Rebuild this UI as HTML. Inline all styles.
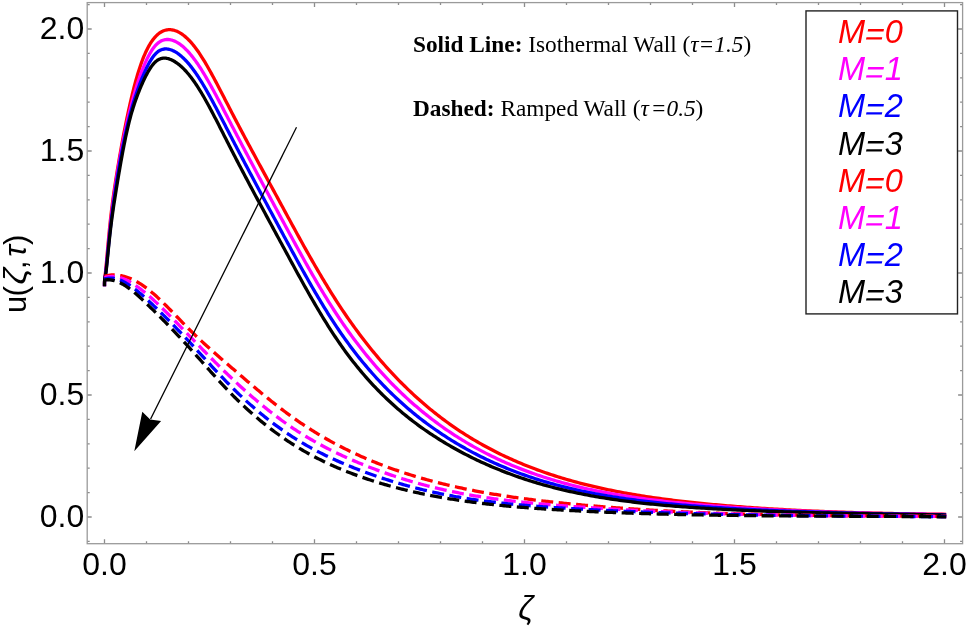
<!DOCTYPE html>
<html><head><meta charset="utf-8"><style>
html,body{margin:0;padding:0;background:#fff;width:967px;height:626px;overflow:hidden}
svg{display:block;will-change:transform}
</style></head><body>
<svg width="967" height="626" viewBox="0 0 967 626">
<rect width="967" height="626" fill="#fff"/>
<path d="M104.50 543.70v-4.50M104.50 2.60v4.50M146.50 543.70v-2.50M146.50 2.60v2.50M188.50 543.70v-2.50M188.50 2.60v2.50M230.50 543.70v-2.50M230.50 2.60v2.50M272.50 543.70v-2.50M272.50 2.60v2.50M314.50 543.70v-4.50M314.50 2.60v4.50M356.50 543.70v-2.50M356.50 2.60v2.50M398.50 543.70v-2.50M398.50 2.60v2.50M440.50 543.70v-2.50M440.50 2.60v2.50M482.50 543.70v-2.50M482.50 2.60v2.50M524.50 543.70v-4.50M524.50 2.60v4.50M566.50 543.70v-2.50M566.50 2.60v2.50M608.50 543.70v-2.50M608.50 2.60v2.50M650.50 543.70v-2.50M650.50 2.60v2.50M692.50 543.70v-2.50M692.50 2.60v2.50M734.50 543.70v-4.50M734.50 2.60v4.50M776.50 543.70v-2.50M776.50 2.60v2.50M818.50 543.70v-2.50M818.50 2.60v2.50M860.50 543.70v-2.50M860.50 2.60v2.50M902.50 543.70v-2.50M902.50 2.60v2.50M944.50 543.70v-4.50M944.50 2.60v4.50M87.20 541.40h2.50M962.60 541.40h-2.50M87.20 517.00h4.50M962.60 517.00h-4.50M87.20 492.60h2.50M962.60 492.60h-2.50M87.20 468.20h2.50M962.60 468.20h-2.50M87.20 443.80h2.50M962.60 443.80h-2.50M87.20 419.40h2.50M962.60 419.40h-2.50M87.20 395.00h4.50M962.60 395.00h-4.50M87.20 370.60h2.50M962.60 370.60h-2.50M87.20 346.20h2.50M962.60 346.20h-2.50M87.20 321.80h2.50M962.60 321.80h-2.50M87.20 297.40h2.50M962.60 297.40h-2.50M87.20 273.00h4.50M962.60 273.00h-4.50M87.20 248.60h2.50M962.60 248.60h-2.50M87.20 224.20h2.50M962.60 224.20h-2.50M87.20 199.80h2.50M962.60 199.80h-2.50M87.20 175.40h2.50M962.60 175.40h-2.50M87.20 151.00h4.50M962.60 151.00h-4.50M87.20 126.60h2.50M962.60 126.60h-2.50M87.20 102.20h2.50M962.60 102.20h-2.50M87.20 77.80h2.50M962.60 77.80h-2.50M87.20 53.40h2.50M962.60 53.40h-2.50M87.20 29.00h4.50M962.60 29.00h-4.50M87.20 4.60h2.50M962.60 4.60h-2.50" stroke="#8c8c8c" stroke-width="1.3" fill="none"/>
<rect x="87.2" y="2.6" width="875.4" height="541.1" fill="none" stroke="#9a9a9a" stroke-width="1.3"/>
<path d="M104.50 284.60L104.50 284.00L104.51 283.42L104.52 282.87L104.54 282.34L104.56 281.82L104.58 281.32L104.61 280.82L104.65 280.32L104.69 279.82L104.73 279.31L104.78 278.79L104.84 278.25L104.90 277.69L104.96 277.10L105.03 276.49L105.10 275.84L105.18 275.15L105.26 274.41L105.35 273.63L105.44 272.79L105.53 271.89L105.63 270.94L105.74 269.91L105.85 268.82L105.96 267.64L106.08 266.39L106.21 265.06L106.34 263.65L106.47 262.17L106.61 260.62L106.75 259.00L106.90 257.32L107.05 255.58L107.21 253.79L107.37 251.95L107.53 250.06L107.71 248.13L107.88 246.16L108.06 244.15L108.25 242.10L108.44 240.03L108.63 237.94L108.83 235.82L109.03 233.69L109.24 231.54L109.45 229.38L109.67 227.22L109.89 225.05L110.12 222.88L110.35 220.72L110.59 218.57L110.83 216.42L111.08 214.29L111.33 212.16L111.58 210.05L111.84 207.94L112.11 205.84L112.38 203.74L112.65 201.65L112.93 199.57L113.21 197.49L113.50 195.41L113.79 193.33L114.09 191.25L114.39 189.18L114.70 187.10L115.01 185.02L115.33 182.94L115.65 180.86L115.97 178.77L116.30 176.68L116.64 174.58L116.98 172.48L117.32 170.37L117.67 168.25L118.02 166.12L118.38 163.99L118.74 161.84L119.11 159.68L119.48 157.52L119.86 155.35L120.24 153.17L120.63 150.99L121.02 148.80L121.41 146.60L121.82 144.40L122.22 142.20L122.63 140.00L123.04 137.79L123.46 135.58L123.89 133.37L124.32 131.16L124.75 128.95L125.19 126.74L125.63 124.53L126.08 122.33L126.53 120.12L126.98 117.93L127.45 115.73L127.91 113.54L128.38 111.36L128.86 109.18L129.34 107.01L129.82 104.85L130.31 102.69L130.80 100.55L131.30 98.42L131.81 96.31L132.31 94.21L132.83 92.12L133.35 90.05L133.87 88.01L134.39 85.98L134.93 83.98L135.46 81.99L136.00 80.04L136.55 78.11L137.10 76.20L137.65 74.33L138.21 72.48L138.78 70.67L139.35 68.89L139.92 67.14L140.50 65.43L141.08 63.75L141.67 62.11L142.26 60.51L142.86 58.96L143.46 57.44L144.07 55.96L144.68 54.53L145.29 53.13L145.91 51.78L146.54 50.46L147.17 49.19L147.80 47.96L148.44 46.76L149.08 45.61L149.73 44.50L150.39 43.43L151.04 42.40L151.71 41.41L152.37 40.47L153.05 39.56L153.72 38.69L154.40 37.86L155.09 37.08L155.78 36.33L156.48 35.63L157.18 34.96L157.88 34.34L158.59 33.75L159.30 33.21L160.02 32.70L160.75 32.24L161.47 31.81L162.21 31.42L162.94 31.07L163.69 30.76L164.43 30.49L165.18 30.26L165.94 30.07L166.70 29.92L167.47 29.80L168.24 29.72L169.01 29.68L169.79 29.68L170.58 29.71L171.37 29.78L172.16 29.89L172.96 30.04L173.76 30.23L174.57 30.45L175.38 30.71L176.20 31.01L177.02 31.34L177.85 31.72L178.68 32.13L179.51 32.59L180.35 33.08L181.20 33.61L182.05 34.19L182.90 34.80L183.76 35.45L184.63 36.15L185.49 36.88L186.37 37.66L187.24 38.47L188.13 39.33L189.01 40.23L189.91 41.17L190.80 42.15L191.70 43.18L192.61 44.25L193.52 45.36L194.44 46.51L195.36 47.71L196.28 48.95L197.21 50.23L198.15 51.56L199.08 52.93L200.03 54.34L200.98 55.80L201.93 57.29L202.89 58.82L203.85 60.38L204.82 61.98L205.79 63.62L206.76 65.29L207.74 66.99L208.73 68.72L209.72 70.48L210.71 72.27L211.71 74.09L212.72 75.93L213.73 77.80L214.74 79.69L215.76 81.60L216.78 83.54L217.81 85.49L218.84 87.46L219.88 89.45L220.92 91.46L221.97 93.48L223.02 95.52L224.08 97.57L225.14 99.63L226.20 101.70L227.27 103.78L228.35 105.86L229.43 107.96L230.51 110.06L231.60 112.16L232.69 114.27L233.79 116.38L234.89 118.49L236.00 120.61L237.11 122.73L238.23 124.85L239.35 126.98L240.48 129.11L241.61 131.25L242.74 133.39L243.88 135.54L245.03 137.69L246.18 139.85L247.33 142.01L248.49 144.17L249.65 146.34L250.82 148.52L251.99 150.71L253.17 152.89L254.35 155.09L255.54 157.29L256.73 159.50L257.93 161.71L259.13 163.93L260.34 166.16L261.55 168.39L262.76 170.64L263.98 172.88L265.20 175.14L266.43 177.40L267.67 179.67L268.91 181.95L270.15 184.24L271.40 186.54L272.65 188.84L273.91 191.15L275.17 193.47L276.43 195.80L277.71 198.14L278.98 200.49L280.26 202.84L281.55 205.21L282.84 207.58L284.13 209.97L285.43 212.36L286.74 214.76L288.04 217.17L289.36 219.58L290.68 222.01L292.00 224.43L293.33 226.86L294.66 229.30L296.00 231.74L297.34 234.18L298.68 236.63L300.03 239.08L301.39 241.53L302.75 243.98L304.11 246.43L305.48 248.88L306.86 251.33L308.24 253.78L309.62 256.23L311.01 258.67L312.40 261.11L313.80 263.55L315.20 265.98L316.61 268.41L318.02 270.83L319.44 273.24L320.86 275.65L322.28 278.05L323.71 280.45L325.15 282.83L326.59 285.21L328.03 287.57L329.48 289.93L330.94 292.27L332.40 294.61L333.86 296.93L335.33 299.24L336.80 301.53L338.28 303.81L339.76 306.08L341.24 308.33L342.74 310.57L344.23 312.79L345.73 315.00L347.24 317.19L348.75 319.36L350.26 321.52L351.78 323.67L353.31 325.80L354.83 327.91L356.37 330.01L357.91 332.10L359.45 334.17L361.00 336.22L362.55 338.26L364.11 340.28L365.67 342.29L367.23 344.29L368.80 346.26L370.38 348.23L371.96 350.18L373.55 352.11L375.13 354.03L376.73 355.93L378.33 357.82L379.93 359.70L381.54 361.56L383.15 363.40L384.77 365.23L386.39 367.05L388.02 368.85L389.65 370.63L391.29 372.41L392.93 374.16L394.58 375.90L396.23 377.63L397.88 379.34L399.54 381.04L401.21 382.73L402.87 384.40L404.55 386.05L406.23 387.69L407.91 389.32L409.60 390.93L411.29 392.53L412.99 394.11L414.69 395.68L416.40 397.23L418.11 398.77L419.82 400.30L421.55 401.81L423.27 403.30L425.00 404.79L426.74 406.26L428.48 407.71L430.22 409.15L431.97 410.58L433.72 411.99L435.48 413.39L437.24 414.77L439.01 416.14L440.78 417.50L442.56 418.84L444.34 420.17L446.13 421.48L447.92 422.79L449.71 424.07L451.51 425.35L453.32 426.61L455.13 427.85L456.94 429.08L458.76 430.30L460.59 431.51L462.41 432.70L464.25 433.88L466.09 435.05L467.93 436.20L469.77 437.34L471.63 438.47L473.48 439.59L475.34 440.69L477.21 441.78L479.08 442.86L480.96 443.92L482.84 444.98L484.72 446.02L486.61 447.05L488.50 448.07L490.40 449.07L492.31 450.06L494.21 451.05L496.13 452.02L498.04 452.97L499.97 453.92L501.89 454.86L503.82 455.78L505.76 456.69L507.70 457.59L509.65 458.48L511.60 459.36L513.55 460.23L515.51 461.09L517.48 461.94L519.44 462.77L521.42 463.60L523.40 464.41L525.38 465.22L527.37 466.01L529.36 466.79L531.36 467.57L533.36 468.33L535.36 469.08L537.38 469.83L539.39 470.56L541.41 471.29L543.44 472.00L545.47 472.70L547.50 473.40L549.54 474.08L551.58 474.76L553.63 475.43L555.69 476.09L557.74 476.73L559.81 477.37L561.87 478.00L563.94 478.63L566.02 479.24L568.10 479.84L570.19 480.44L572.28 481.03L574.37 481.60L576.47 482.17L578.58 482.74L580.69 483.29L582.80 483.83L584.92 484.37L587.04 484.90L589.17 485.42L591.31 485.94L593.44 486.44L595.58 486.94L597.73 487.43L599.88 487.92L602.04 488.39L604.20 488.86L606.37 489.32L608.54 489.78L610.71 490.23L612.89 490.67L615.07 491.10L617.26 491.53L619.46 491.95L621.66 492.37L623.86 492.77L626.07 493.17L628.28 493.57L630.50 493.96L632.72 494.34L634.94 494.72L637.18 495.09L639.41 495.45L641.65 495.81L643.90 496.16L646.15 496.51L648.40 496.85L650.66 497.19L652.92 497.52L655.19 497.85L657.47 498.17L659.74 498.48L662.03 498.79L664.31 499.10L666.61 499.40L668.90 499.70L671.20 499.99L673.51 500.27L675.82 500.56L678.14 500.83L680.46 501.11L682.78 501.38L685.11 501.64L687.44 501.90L689.78 502.16L692.13 502.41L694.47 502.66L696.83 502.91L699.18 503.15L701.55 503.38L703.91 503.62L706.29 503.85L708.66 504.08L711.04 504.30L713.43 504.52L715.82 504.74L718.21 504.96L720.61 505.17L723.02 505.38L725.43 505.58L727.84 505.79L730.26 505.99L732.68 506.18L735.11 506.38L737.54 506.57L739.98 506.76L742.42 506.94L744.87 507.12L747.32 507.30L749.77 507.48L752.23 507.65L754.70 507.82L757.17 507.99L759.64 508.15L762.12 508.32L764.61 508.48L767.10 508.63L769.59 508.79L772.09 508.94L774.59 509.09L777.10 509.24L779.61 509.38L782.13 509.52L784.65 509.66L787.17 509.80L789.70 509.93L792.24 510.06L794.78 510.19L797.32 510.32L799.87 510.44L802.43 510.56L804.99 510.68L807.55 510.80L810.12 510.92L812.69 511.03L815.27 511.14L817.85 511.25L820.44 511.35L823.03 511.46L825.63 511.56L828.23 511.66L830.83 511.76L833.44 511.85L836.06 511.95L838.68 512.04L841.30 512.13L843.93 512.21L846.57 512.30L849.20 512.38L851.85 512.46L854.50 512.54L857.15 512.62L859.80 512.70L862.47 512.77L865.13 512.84L867.80 512.92L870.48 512.98L873.16 513.05L875.85 513.12L878.54 513.18L881.23 513.24L883.93 513.30L886.63 513.36L889.34 513.42L892.06 513.48L894.77 513.53L897.50 513.58L900.22 513.63L902.96 513.68L905.69 513.73L908.43 513.78L911.18 513.82L913.93 513.87L916.69 513.91L919.45 513.95L922.21 513.99L924.98 514.03L927.76 514.07L930.54 514.11L933.32 514.14L936.11 514.17L938.90 514.21L941.70 514.24L944.50 514.27" stroke="#ff0000" stroke-width="3.3" fill="none" stroke-linejoin="round" stroke-linecap="square"/>
<path d="M104.50 284.60L104.50 284.10L104.51 283.62L104.52 283.16L104.54 282.72L104.56 282.30L104.58 281.88L104.61 281.46L104.65 281.04L104.69 280.62L104.73 280.19L104.78 279.74L104.84 279.28L104.90 278.80L104.96 278.29L105.03 277.75L105.10 277.17L105.18 276.56L105.26 275.91L105.35 275.20L105.44 274.45L105.53 273.64L105.63 272.77L105.74 271.84L105.85 270.83L105.96 269.76L106.08 268.61L106.21 267.38L106.34 266.08L106.47 264.71L106.61 263.27L106.75 261.77L106.90 260.20L107.05 258.58L107.21 256.90L107.37 255.17L107.53 253.39L107.71 251.57L107.88 249.70L108.06 247.79L108.25 245.85L108.44 243.87L108.63 241.86L108.83 239.82L109.03 237.76L109.24 235.68L109.45 233.58L109.67 231.46L109.89 229.33L110.12 227.20L110.35 225.05L110.59 222.91L110.83 220.76L111.08 218.61L111.33 216.46L111.58 214.32L111.84 212.17L112.11 210.02L112.38 207.87L112.65 205.72L112.93 203.57L113.21 201.42L113.50 199.27L113.79 197.12L114.09 194.97L114.39 192.82L114.70 190.67L115.01 188.52L115.33 186.37L115.65 184.22L115.97 182.07L116.30 179.92L116.64 177.77L116.98 175.62L117.32 173.47L117.67 171.32L118.02 169.17L118.38 167.02L118.74 164.87L119.11 162.73L119.48 160.58L119.86 158.44L120.24 156.30L120.63 154.16L121.02 152.03L121.41 149.90L121.82 147.77L122.22 145.65L122.63 143.53L123.04 141.42L123.46 139.32L123.89 137.22L124.32 135.13L124.75 133.05L125.19 130.97L125.63 128.91L126.08 126.85L126.53 124.80L126.98 122.76L127.45 120.73L127.91 118.72L128.38 116.71L128.86 114.72L129.34 112.73L129.82 110.76L130.31 108.81L130.80 106.86L131.30 104.94L131.81 103.02L132.31 101.12L132.83 99.24L133.35 97.37L133.87 95.52L134.39 93.68L134.93 91.87L135.46 90.07L136.00 88.29L136.55 86.52L137.10 84.78L137.65 83.06L138.21 81.36L138.78 79.68L139.35 78.02L139.92 76.38L140.50 74.76L141.08 73.17L141.67 71.60L142.26 70.05L142.86 68.53L143.46 67.03L144.07 65.56L144.68 64.12L145.29 62.71L145.91 61.33L146.54 59.98L147.17 58.66L147.80 57.38L148.44 56.13L149.08 54.92L149.73 53.75L150.39 52.62L151.04 51.53L151.71 50.48L152.37 49.48L153.05 48.52L153.72 47.61L154.40 46.74L155.09 45.92L155.78 45.15L156.48 44.44L157.18 43.77L157.88 43.16L158.59 42.59L159.30 42.08L160.02 41.61L160.75 41.19L161.47 40.82L162.21 40.49L162.94 40.21L163.69 39.98L164.43 39.79L165.18 39.64L165.94 39.54L166.70 39.48L167.47 39.47L168.24 39.49L169.01 39.55L169.79 39.66L170.58 39.80L171.37 39.99L172.16 40.21L172.96 40.47L173.76 40.77L174.57 41.11L175.38 41.48L176.20 41.89L177.02 42.34L177.85 42.83L178.68 43.36L179.51 43.92L180.35 44.53L181.20 45.17L182.05 45.85L182.90 46.57L183.76 47.32L184.63 48.12L185.49 48.95L186.37 49.82L187.24 50.73L188.13 51.68L189.01 52.67L189.91 53.69L190.80 54.75L191.70 55.86L192.61 57.00L193.52 58.17L194.44 59.39L195.36 60.65L196.28 61.94L197.21 63.28L198.15 64.65L199.08 66.06L200.03 67.50L200.98 68.98L201.93 70.50L202.89 72.05L203.85 73.63L204.82 75.25L205.79 76.89L206.76 78.57L207.74 80.27L208.73 82.01L209.72 83.76L210.71 85.55L211.71 87.36L212.72 89.19L213.73 91.05L214.74 92.93L215.76 94.83L216.78 96.74L217.81 98.68L218.84 100.64L219.88 102.61L220.92 104.60L221.97 106.60L223.02 108.62L224.08 110.65L225.14 112.70L226.20 114.75L227.27 116.81L228.35 118.89L229.43 120.97L230.51 123.06L231.60 125.15L232.69 127.25L233.79 129.36L234.89 131.47L236.00 133.58L237.11 135.71L238.23 137.83L239.35 139.97L240.48 142.10L241.61 144.25L242.74 146.40L243.88 148.55L245.03 150.72L246.18 152.88L247.33 155.06L248.49 157.24L249.65 159.43L250.82 161.62L251.99 163.82L253.17 166.02L254.35 168.24L255.54 170.46L256.73 172.68L257.93 174.92L259.13 177.16L260.34 179.40L261.55 181.66L262.76 183.92L263.98 186.19L265.20 188.46L266.43 190.75L267.67 193.04L268.91 195.34L270.15 197.64L271.40 199.96L272.65 202.28L273.91 204.61L275.17 206.95L276.43 209.29L277.71 211.64L278.98 214.01L280.26 216.38L281.55 218.75L282.84 221.14L284.13 223.54L285.43 225.94L286.74 228.35L288.04 230.76L289.36 233.18L290.68 235.61L292.00 238.04L293.33 240.47L294.66 242.91L296.00 245.35L297.34 247.79L298.68 250.23L300.03 252.67L301.39 255.12L302.75 257.56L304.11 260.00L305.48 262.45L306.86 264.88L308.24 267.32L309.62 269.75L311.01 272.18L312.40 274.60L313.80 277.02L315.20 279.43L316.61 281.84L318.02 284.24L319.44 286.63L320.86 289.01L322.28 291.39L323.71 293.75L325.15 296.11L326.59 298.45L328.03 300.78L329.48 303.11L330.94 305.41L332.40 307.71L333.86 309.99L335.33 312.26L336.80 314.51L338.28 316.75L339.76 318.97L341.24 321.17L342.74 323.36L344.23 325.53L345.73 327.68L347.24 329.82L348.75 331.94L350.26 334.04L351.78 336.13L353.31 338.20L354.83 340.25L356.37 342.29L357.91 344.31L359.45 346.31L361.00 348.30L362.55 350.27L364.11 352.23L365.67 354.17L367.23 356.09L368.80 358.00L370.38 359.89L371.96 361.76L373.55 363.62L375.13 365.47L376.73 367.29L378.33 369.11L379.93 370.90L381.54 372.68L383.15 374.45L384.77 376.20L386.39 377.94L388.02 379.66L389.65 381.36L391.29 383.05L392.93 384.73L394.58 386.38L396.23 388.03L397.88 389.66L399.54 391.27L401.21 392.87L402.87 394.46L404.55 396.03L406.23 397.59L407.91 399.13L409.60 400.66L411.29 402.17L412.99 403.67L414.69 405.15L416.40 406.62L418.11 408.08L419.82 409.52L421.55 410.95L423.27 412.37L425.00 413.77L426.74 415.15L428.48 416.53L430.22 417.89L431.97 419.23L433.72 420.56L435.48 421.88L437.24 423.19L439.01 424.48L440.78 425.76L442.56 427.02L444.34 428.28L446.13 429.52L447.92 430.74L449.71 431.96L451.51 433.16L453.32 434.34L455.13 435.52L456.94 436.68L458.76 437.83L460.59 438.97L462.41 440.09L464.25 441.20L466.09 442.30L467.93 443.39L469.77 444.46L471.63 445.53L473.48 446.58L475.34 447.62L477.21 448.64L479.08 449.66L480.96 450.66L482.84 451.65L484.72 452.63L486.61 453.60L488.50 454.56L490.40 455.50L492.31 456.44L494.21 457.36L496.13 458.27L498.04 459.17L499.97 460.06L501.89 460.94L503.82 461.81L505.76 462.66L507.70 463.51L509.65 464.34L511.60 465.17L513.55 465.98L515.51 466.78L517.48 467.58L519.44 468.36L521.42 469.13L523.40 469.89L525.38 470.64L527.37 471.38L529.36 472.11L531.36 472.84L533.36 473.55L535.36 474.25L537.38 474.94L539.39 475.62L541.41 476.29L543.44 476.95L545.47 477.61L547.50 478.25L549.54 478.89L551.58 479.51L553.63 480.13L555.69 480.73L557.74 481.33L559.81 481.92L561.87 482.50L563.94 483.07L566.02 483.63L568.10 484.18L570.19 484.73L572.28 485.26L574.37 485.79L576.47 486.31L578.58 486.82L580.69 487.32L582.80 487.81L584.92 488.30L587.04 488.78L589.17 489.25L591.31 489.71L593.44 490.17L595.58 490.61L597.73 491.05L599.88 491.49L602.04 491.91L604.20 492.33L606.37 492.74L608.54 493.15L610.71 493.54L612.89 493.93L615.07 494.32L617.26 494.70L619.46 495.07L621.66 495.43L623.86 495.79L626.07 496.14L628.28 496.49L630.50 496.83L632.72 497.16L634.94 497.49L637.18 497.81L639.41 498.13L641.65 498.44L643.90 498.75L646.15 499.05L648.40 499.34L650.66 499.63L652.92 499.92L655.19 500.20L657.47 500.48L659.74 500.75L662.03 501.01L664.31 501.27L666.61 501.53L668.90 501.78L671.20 502.03L673.51 502.28L675.82 502.52L678.14 502.75L680.46 502.99L682.78 503.21L685.11 503.44L687.44 503.66L689.78 503.88L692.13 504.09L694.47 504.30L696.83 504.51L699.18 504.72L701.55 504.92L703.91 505.12L706.29 505.31L708.66 505.51L711.04 505.70L713.43 505.89L715.82 506.07L718.21 506.25L720.61 506.43L723.02 506.61L725.43 506.79L727.84 506.96L730.26 507.13L732.68 507.30L735.11 507.46L737.54 507.63L739.98 507.79L742.42 507.95L744.87 508.10L747.32 508.25L749.77 508.41L752.23 508.55L754.70 508.70L757.17 508.85L759.64 508.99L762.12 509.13L764.61 509.27L767.10 509.40L769.59 509.53L772.09 509.67L774.59 509.80L777.10 509.92L779.61 510.05L782.13 510.17L784.65 510.29L787.17 510.41L789.70 510.53L792.24 510.64L794.78 510.75L797.32 510.86L799.87 510.97L802.43 511.08L804.99 511.19L807.55 511.29L810.12 511.39L812.69 511.49L815.27 511.59L817.85 511.68L820.44 511.78L823.03 511.87L825.63 511.96L828.23 512.05L830.83 512.14L833.44 512.22L836.06 512.31L838.68 512.39L841.30 512.47L843.93 512.55L846.57 512.63L849.20 512.70L851.85 512.78L854.50 512.85L857.15 512.92L859.80 512.99L862.47 513.06L865.13 513.13L867.80 513.19L870.48 513.26L873.16 513.32L875.85 513.38L878.54 513.44L881.23 513.50L883.93 513.56L886.63 513.61L889.34 513.67L892.06 513.72L894.77 513.77L897.50 513.82L900.22 513.87L902.96 513.92L905.69 513.97L908.43 514.02L911.18 514.06L913.93 514.11L916.69 514.15L919.45 514.19L922.21 514.23L924.98 514.27L927.76 514.31L930.54 514.35L933.32 514.39L936.11 514.42L938.90 514.46L941.70 514.49L944.50 514.53" stroke="#ff00ff" stroke-width="3.3" fill="none" stroke-linejoin="round" stroke-linecap="square"/>
<path d="M104.50 284.60L104.50 284.01L104.51 283.46L104.52 282.95L104.54 282.48L104.56 282.04L104.58 281.62L104.61 281.22L104.65 280.83L104.69 280.46L104.73 280.09L104.78 279.71L104.84 279.33L104.90 278.93L104.96 278.52L105.03 278.09L105.10 277.62L105.18 277.12L105.26 276.59L105.35 276.01L105.44 275.38L105.53 274.69L105.63 273.95L105.74 273.14L105.85 272.26L105.96 271.30L106.08 270.26L106.21 269.14L106.34 267.95L106.47 266.67L106.61 265.33L106.75 263.92L106.90 262.44L107.05 260.90L107.21 259.30L107.37 257.65L107.53 255.94L107.71 254.19L107.88 252.39L108.06 250.55L108.25 248.67L108.44 246.75L108.63 244.80L108.83 242.82L109.03 240.81L109.24 238.78L109.45 236.73L109.67 234.67L109.89 232.59L110.12 230.50L110.35 228.41L110.59 226.31L110.83 224.21L111.08 222.11L111.33 220.01L111.58 217.90L111.84 215.80L112.11 213.69L112.38 211.59L112.65 209.48L112.93 207.37L113.21 205.26L113.50 203.15L113.79 201.03L114.09 198.92L114.39 196.80L114.70 194.68L115.01 192.56L115.33 190.44L115.65 188.31L115.97 186.18L116.30 184.05L116.64 181.92L116.98 179.79L117.32 177.65L117.67 175.51L118.02 173.37L118.38 171.22L118.74 169.07L119.11 166.93L119.48 164.78L119.86 162.63L120.24 160.48L120.63 158.34L121.02 156.20L121.41 154.06L121.82 151.93L122.22 149.81L122.63 147.69L123.04 145.58L123.46 143.48L123.89 141.39L124.32 139.32L124.75 137.25L125.19 135.20L125.63 133.16L126.08 131.14L126.53 129.13L126.98 127.14L127.45 125.16L127.91 123.21L128.38 121.27L128.86 119.36L129.34 117.47L129.82 115.59L130.31 113.74L130.80 111.91L131.30 110.10L131.81 108.31L132.31 106.54L132.83 104.78L133.35 103.05L133.87 101.34L134.39 99.64L134.93 97.96L135.46 96.30L136.00 94.66L136.55 93.04L137.10 91.43L137.65 89.84L138.21 88.27L138.78 86.72L139.35 85.18L139.92 83.65L140.50 82.15L141.08 80.66L141.67 79.18L142.26 77.72L142.86 76.27L143.46 74.85L144.07 73.44L144.68 72.05L145.29 70.68L145.91 69.34L146.54 68.03L147.17 66.74L147.80 65.49L148.44 64.26L149.08 63.08L149.73 61.93L150.39 60.81L151.04 59.74L151.71 58.72L152.37 57.73L153.05 56.80L153.72 55.91L154.40 55.07L155.09 54.29L155.78 53.56L156.48 52.89L157.18 52.27L157.88 51.71L158.59 51.20L159.30 50.75L160.02 50.35L160.75 50.00L161.47 49.71L162.21 49.46L162.94 49.26L163.69 49.11L164.43 49.00L165.18 48.94L165.94 48.93L166.70 48.96L167.47 49.03L168.24 49.15L169.01 49.30L169.79 49.50L170.58 49.73L171.37 50.00L172.16 50.31L172.96 50.66L173.76 51.04L174.57 51.46L175.38 51.92L176.20 52.41L177.02 52.94L177.85 53.50L178.68 54.10L179.51 54.74L180.35 55.42L181.20 56.13L182.05 56.88L182.90 57.66L183.76 58.49L184.63 59.35L185.49 60.24L186.37 61.17L187.24 62.14L188.13 63.15L189.01 64.19L189.91 65.27L190.80 66.39L191.70 67.54L192.61 68.73L193.52 69.96L194.44 71.23L195.36 72.53L196.28 73.87L197.21 75.24L198.15 76.65L199.08 78.10L200.03 79.58L200.98 81.10L201.93 82.65L202.89 84.24L203.85 85.85L204.82 87.50L205.79 89.17L206.76 90.87L207.74 92.60L208.73 94.36L209.72 96.14L210.71 97.95L211.71 99.78L212.72 101.64L213.73 103.51L214.74 105.41L215.76 107.33L216.78 109.26L217.81 111.22L218.84 113.19L219.88 115.17L220.92 117.18L221.97 119.19L223.02 121.22L224.08 123.27L225.14 125.32L226.20 127.38L227.27 129.46L228.35 131.54L229.43 133.63L230.51 135.73L231.60 137.83L232.69 139.94L233.79 142.05L234.89 144.17L236.00 146.29L237.11 148.42L238.23 150.55L239.35 152.69L240.48 154.84L241.61 156.99L242.74 159.14L243.88 161.30L245.03 163.47L246.18 165.64L247.33 167.82L248.49 170.01L249.65 172.20L250.82 174.39L251.99 176.60L253.17 178.81L254.35 181.02L255.54 183.25L256.73 185.48L257.93 187.71L259.13 189.96L260.34 192.21L261.55 194.47L262.76 196.73L263.98 199.00L265.20 201.28L266.43 203.57L267.67 205.86L268.91 208.17L270.15 210.47L271.40 212.79L272.65 215.12L273.91 217.45L275.17 219.79L276.43 222.14L277.71 224.50L278.98 226.86L280.26 229.24L281.55 231.62L282.84 234.01L284.13 236.41L285.43 238.82L286.74 241.23L288.04 243.65L289.36 246.07L290.68 248.50L292.00 250.94L293.33 253.37L294.66 255.81L296.00 258.26L297.34 260.70L298.68 263.15L300.03 265.59L301.39 268.03L302.75 270.48L304.11 272.92L305.48 275.36L306.86 277.79L308.24 280.23L309.62 282.65L311.01 285.08L312.40 287.49L313.80 289.91L315.20 292.31L316.61 294.70L318.02 297.09L319.44 299.47L320.86 301.84L322.28 304.20L323.71 306.55L325.15 308.88L326.59 311.20L328.03 313.51L329.48 315.81L330.94 318.09L332.40 320.36L333.86 322.61L335.33 324.85L336.80 327.07L338.28 329.27L339.76 331.45L341.24 333.61L342.74 335.76L344.23 337.88L345.73 339.99L347.24 342.08L348.75 344.14L350.26 346.19L351.78 348.22L353.31 350.24L354.83 352.23L356.37 354.21L357.91 356.16L359.45 358.10L361.00 360.02L362.55 361.93L364.11 363.81L365.67 365.68L367.23 367.53L368.80 369.36L370.38 371.18L371.96 372.98L373.55 374.76L375.13 376.52L376.73 378.27L378.33 380.00L379.93 381.72L381.54 383.42L383.15 385.10L384.77 386.76L386.39 388.41L388.02 390.05L389.65 391.66L391.29 393.27L392.93 394.85L394.58 396.42L396.23 397.98L397.88 399.52L399.54 401.04L401.21 402.55L402.87 404.05L404.55 405.53L406.23 406.99L407.91 408.44L409.60 409.88L411.29 411.30L412.99 412.71L414.69 414.10L416.40 415.48L418.11 416.84L419.82 418.19L421.55 419.53L423.27 420.85L425.00 422.17L426.74 423.46L428.48 424.75L430.22 426.02L431.97 427.27L433.72 428.52L435.48 429.75L437.24 430.97L439.01 432.18L440.78 433.37L442.56 434.55L444.34 435.72L446.13 436.88L447.92 438.03L449.71 439.16L451.51 440.28L453.32 441.39L455.13 442.49L456.94 443.58L458.76 444.65L460.59 445.71L462.41 446.77L464.25 447.81L466.09 448.83L467.93 449.85L469.77 450.86L471.63 451.85L473.48 452.84L475.34 453.81L477.21 454.77L479.08 455.72L480.96 456.66L482.84 457.58L484.72 458.50L486.61 459.41L488.50 460.30L490.40 461.19L492.31 462.06L494.21 462.93L496.13 463.78L498.04 464.62L499.97 465.45L501.89 466.27L503.82 467.08L505.76 467.89L507.70 468.68L509.65 469.46L511.60 470.23L513.55 470.99L515.51 471.74L517.48 472.48L519.44 473.21L521.42 473.93L523.40 474.64L525.38 475.34L527.37 476.03L529.36 476.71L531.36 477.39L533.36 478.05L535.36 478.70L537.38 479.35L539.39 479.98L541.41 480.61L543.44 481.22L545.47 481.83L547.50 482.43L549.54 483.02L551.58 483.60L553.63 484.17L555.69 484.73L557.74 485.28L559.81 485.83L561.87 486.36L563.94 486.89L566.02 487.41L568.10 487.92L570.19 488.42L572.28 488.91L574.37 489.40L576.47 489.87L578.58 490.34L580.69 490.80L582.80 491.26L584.92 491.70L587.04 492.14L589.17 492.57L591.31 492.99L593.44 493.40L595.58 493.81L597.73 494.21L599.88 494.61L602.04 494.99L604.20 495.37L606.37 495.74L608.54 496.11L610.71 496.47L612.89 496.82L615.07 497.16L617.26 497.50L619.46 497.84L621.66 498.16L623.86 498.49L626.07 498.80L628.28 499.11L630.50 499.41L632.72 499.71L634.94 500.00L637.18 500.29L639.41 500.57L641.65 500.85L643.90 501.12L646.15 501.38L648.40 501.64L650.66 501.90L652.92 502.15L655.19 502.40L657.47 502.64L659.74 502.88L662.03 503.11L664.31 503.34L666.61 503.56L668.90 503.78L671.20 504.00L673.51 504.21L675.82 504.42L678.14 504.62L680.46 504.82L682.78 505.02L685.11 505.21L687.44 505.40L689.78 505.59L692.13 505.78L694.47 505.96L696.83 506.13L699.18 506.31L701.55 506.48L703.91 506.65L706.29 506.82L708.66 506.98L711.04 507.14L713.43 507.30L715.82 507.46L718.21 507.62L720.61 507.77L723.02 507.92L725.43 508.07L727.84 508.21L730.26 508.36L732.68 508.50L735.11 508.64L737.54 508.78L739.98 508.91L742.42 509.05L744.87 509.18L747.32 509.31L749.77 509.43L752.23 509.56L754.70 509.68L757.17 509.80L759.64 509.92L762.12 510.04L764.61 510.15L767.10 510.27L769.59 510.38L772.09 510.49L774.59 510.60L777.10 510.70L779.61 510.81L782.13 510.91L784.65 511.01L787.17 511.11L789.70 511.21L792.24 511.30L794.78 511.40L797.32 511.49L799.87 511.58L802.43 511.67L804.99 511.76L807.55 511.85L810.12 511.93L812.69 512.02L815.27 512.10L817.85 512.18L820.44 512.26L823.03 512.34L825.63 512.41L828.23 512.49L830.83 512.56L833.44 512.64L836.06 512.71L838.68 512.78L841.30 512.85L843.93 512.91L846.57 512.98L849.20 513.05L851.85 513.11L854.50 513.17L857.15 513.23L859.80 513.30L862.47 513.36L865.13 513.41L867.80 513.47L870.48 513.53L873.16 513.59L875.85 513.64L878.54 513.69L881.23 513.75L883.93 513.80L886.63 513.85L889.34 513.90L892.06 513.95L894.77 514.00L897.50 514.05L900.22 514.10L902.96 514.14L905.69 514.19L908.43 514.24L911.18 514.28L913.93 514.33L916.69 514.37L919.45 514.41L922.21 514.45L924.98 514.50L927.76 514.54L930.54 514.58L933.32 514.62L936.11 514.66L938.90 514.70L941.70 514.74L944.50 514.78" stroke="#0000ff" stroke-width="3.3" fill="none" stroke-linejoin="round" stroke-linecap="square"/>
<path d="M104.50 284.60L104.50 283.72L104.51 282.94L104.52 282.23L104.54 281.61L104.56 281.05L104.58 280.55L104.61 280.10L104.65 279.70L104.69 279.34L104.73 279.00L104.78 278.69L104.84 278.39L104.90 278.10L104.96 277.80L105.03 277.50L105.10 277.18L105.18 276.83L105.26 276.46L105.35 276.04L105.44 275.58L105.53 275.06L105.63 274.47L105.74 273.82L105.85 273.09L105.96 272.27L106.08 271.35L106.21 270.35L106.34 269.25L106.47 268.07L106.61 266.80L106.75 265.46L106.90 264.04L107.05 262.55L107.21 261.00L107.37 259.39L107.53 257.72L107.71 256.00L107.88 254.23L108.06 252.42L108.25 250.56L108.44 248.68L108.63 246.76L108.83 244.81L109.03 242.84L109.24 240.85L109.45 238.85L109.67 236.83L109.89 234.82L110.12 232.79L110.35 230.78L110.59 228.77L110.83 226.76L111.08 224.77L111.33 222.79L111.58 220.81L111.84 218.83L112.11 216.86L112.38 214.90L112.65 212.93L112.93 210.97L113.21 209.01L113.50 207.04L113.79 205.07L114.09 203.10L114.39 201.13L114.70 199.14L115.01 197.15L115.33 195.15L115.65 193.14L115.97 191.12L116.30 189.09L116.64 187.05L116.98 184.99L117.32 182.91L117.67 180.82L118.02 178.71L118.38 176.58L118.74 174.44L119.11 172.28L119.48 170.10L119.86 167.91L120.24 165.72L120.63 163.52L121.02 161.31L121.41 159.10L121.82 156.89L122.22 154.68L122.63 152.47L123.04 150.27L123.46 148.07L123.89 145.89L124.32 143.72L124.75 141.56L125.19 139.42L125.63 137.29L126.08 135.19L126.53 133.11L126.98 131.05L127.45 129.02L127.91 127.02L128.38 125.05L128.86 123.11L129.34 121.20L129.82 119.33L130.31 117.49L130.80 115.69L131.30 113.91L131.81 112.16L132.31 110.45L132.83 108.76L133.35 107.09L133.87 105.46L134.39 103.85L134.93 102.26L135.46 100.70L136.00 99.16L136.55 97.65L137.10 96.15L137.65 94.68L138.21 93.22L138.78 91.79L139.35 90.37L139.92 88.97L140.50 87.58L141.08 86.21L141.67 84.86L142.26 83.52L142.86 82.19L143.46 80.87L144.07 79.58L144.68 78.30L145.29 77.05L145.91 75.81L146.54 74.61L147.17 73.43L147.80 72.28L148.44 71.16L149.08 70.07L149.73 69.02L150.39 68.01L151.04 67.04L151.71 66.11L152.37 65.23L153.05 64.39L153.72 63.60L154.40 62.86L155.09 62.18L155.78 61.54L156.48 60.97L157.18 60.45L157.88 59.99L158.59 59.58L159.30 59.23L160.02 58.93L160.75 58.67L161.47 58.47L162.21 58.32L162.94 58.21L163.69 58.15L164.43 58.13L165.18 58.16L165.94 58.23L166.70 58.35L167.47 58.50L168.24 58.69L169.01 58.92L169.79 59.19L170.58 59.49L171.37 59.83L172.16 60.20L172.96 60.60L173.76 61.04L174.57 61.51L175.38 62.01L176.20 62.55L177.02 63.12L177.85 63.73L178.68 64.37L179.51 65.04L180.35 65.75L181.20 66.50L182.05 67.28L182.90 68.09L183.76 68.94L184.63 69.83L185.49 70.75L186.37 71.71L187.24 72.71L188.13 73.74L189.01 74.81L189.91 75.92L190.80 77.06L191.70 78.24L192.61 79.46L193.52 80.72L194.44 82.01L195.36 83.35L196.28 84.72L197.21 86.13L198.15 87.58L199.08 89.07L200.03 90.59L200.98 92.15L201.93 93.74L202.89 95.37L203.85 97.03L204.82 98.73L205.79 100.45L206.76 102.20L207.74 103.98L208.73 105.79L209.72 107.62L210.71 109.48L211.71 111.36L212.72 113.26L213.73 115.19L214.74 117.14L215.76 119.10L216.78 121.09L217.81 123.09L218.84 125.11L219.88 127.14L220.92 129.19L221.97 131.25L223.02 133.32L224.08 135.40L225.14 137.50L226.20 139.60L227.27 141.71L228.35 143.82L229.43 145.94L230.51 148.07L231.60 150.19L232.69 152.32L233.79 154.46L234.89 156.59L236.00 158.73L237.11 160.87L238.23 163.01L239.35 165.16L240.48 167.31L241.61 169.47L242.74 171.62L243.88 173.78L245.03 175.95L246.18 178.12L247.33 180.30L248.49 182.48L249.65 184.66L250.82 186.85L251.99 189.04L253.17 191.25L254.35 193.45L255.54 195.66L256.73 197.88L257.93 200.11L259.13 202.34L260.34 204.57L261.55 206.82L262.76 209.07L263.98 211.33L265.20 213.59L266.43 215.87L267.67 218.15L268.91 220.44L270.15 222.73L271.40 225.04L272.65 227.35L273.91 229.68L275.17 232.01L276.43 234.35L277.71 236.70L278.98 239.06L280.26 241.42L281.55 243.80L282.84 246.19L284.13 248.59L285.43 251.00L286.74 253.41L288.04 255.83L289.36 258.26L290.68 260.69L292.00 263.13L293.33 265.57L294.66 268.02L296.00 270.47L297.34 272.92L298.68 275.37L300.03 277.82L301.39 280.28L302.75 282.73L304.11 285.18L305.48 287.62L306.86 290.06L308.24 292.50L309.62 294.94L311.01 297.36L312.40 299.78L313.80 302.20L315.20 304.60L316.61 307.00L318.02 309.39L319.44 311.76L320.86 314.13L322.28 316.48L323.71 318.82L325.15 321.15L326.59 323.47L328.03 325.76L329.48 328.05L330.94 330.31L332.40 332.56L333.86 334.79L335.33 337.01L336.80 339.20L338.28 341.37L339.76 343.52L341.24 345.65L342.74 347.76L344.23 349.85L345.73 351.91L347.24 353.95L348.75 355.97L350.26 357.97L351.78 359.95L353.31 361.91L354.83 363.84L356.37 365.76L357.91 367.66L359.45 369.53L361.00 371.38L362.55 373.22L364.11 375.03L365.67 376.83L367.23 378.61L368.80 380.36L370.38 382.10L371.96 383.82L373.55 385.52L375.13 387.20L376.73 388.87L378.33 390.51L379.93 392.14L381.54 393.75L383.15 395.34L384.77 396.92L386.39 398.48L388.02 400.02L389.65 401.54L391.29 403.05L392.93 404.54L394.58 406.02L396.23 407.47L397.88 408.92L399.54 410.34L401.21 411.76L402.87 413.15L404.55 414.53L406.23 415.90L407.91 417.25L409.60 418.59L411.29 419.91L412.99 421.21L414.69 422.51L416.40 423.79L418.11 425.05L419.82 426.31L421.55 427.54L423.27 428.77L425.00 429.98L426.74 431.18L428.48 432.37L430.22 433.54L431.97 434.70L433.72 435.85L435.48 436.99L437.24 438.12L439.01 439.23L440.78 440.34L442.56 441.43L444.34 442.51L446.13 443.58L447.92 444.64L449.71 445.69L451.51 446.72L453.32 447.75L455.13 448.77L456.94 449.77L458.76 450.77L460.59 451.75L462.41 452.73L464.25 453.69L466.09 454.65L467.93 455.59L469.77 456.52L471.63 457.45L473.48 458.36L475.34 459.26L477.21 460.15L479.08 461.04L480.96 461.91L482.84 462.77L484.72 463.62L486.61 464.47L488.50 465.30L490.40 466.12L492.31 466.93L494.21 467.74L496.13 468.53L498.04 469.32L499.97 470.09L501.89 470.86L503.82 471.61L505.76 472.36L507.70 473.10L509.65 473.82L511.60 474.54L513.55 475.25L515.51 475.95L517.48 476.64L519.44 477.32L521.42 477.99L523.40 478.66L525.38 479.31L527.37 479.96L529.36 480.59L531.36 481.22L533.36 481.84L535.36 482.45L537.38 483.05L539.39 483.64L541.41 484.23L543.44 484.80L545.47 485.37L547.50 485.93L549.54 486.48L551.58 487.02L553.63 487.55L555.69 488.08L557.74 488.59L559.81 489.10L561.87 489.60L563.94 490.09L566.02 490.58L568.10 491.05L570.19 491.52L572.28 491.98L574.37 492.43L576.47 492.88L578.58 493.31L580.69 493.74L582.80 494.16L584.92 494.58L587.04 494.98L589.17 495.38L591.31 495.78L593.44 496.16L595.58 496.54L597.73 496.91L599.88 497.27L602.04 497.63L604.20 497.98L606.37 498.33L608.54 498.67L610.71 499.00L612.89 499.32L615.07 499.64L617.26 499.96L619.46 500.26L621.66 500.57L623.86 500.86L626.07 501.15L628.28 501.44L630.50 501.71L632.72 501.99L634.94 502.26L637.18 502.52L639.41 502.78L641.65 503.03L643.90 503.28L646.15 503.52L648.40 503.75L650.66 503.99L652.92 504.22L655.19 504.44L657.47 504.66L659.74 504.87L662.03 505.08L664.31 505.29L666.61 505.49L668.90 505.69L671.20 505.88L673.51 506.07L675.82 506.26L678.14 506.44L680.46 506.62L682.78 506.79L685.11 506.96L687.44 507.13L689.78 507.29L692.13 507.46L694.47 507.61L696.83 507.77L699.18 507.92L701.55 508.07L703.91 508.22L706.29 508.36L708.66 508.51L711.04 508.64L713.43 508.78L715.82 508.92L718.21 509.05L720.61 509.18L723.02 509.30L725.43 509.43L727.84 509.55L730.26 509.67L732.68 509.79L735.11 509.91L737.54 510.02L739.98 510.13L742.42 510.24L744.87 510.35L747.32 510.45L749.77 510.56L752.23 510.66L754.70 510.76L757.17 510.86L759.64 510.95L762.12 511.05L764.61 511.14L767.10 511.23L769.59 511.32L772.09 511.41L774.59 511.49L777.10 511.58L779.61 511.66L782.13 511.74L784.65 511.82L787.17 511.90L789.70 511.98L792.24 512.05L794.78 512.12L797.32 512.20L799.87 512.27L802.43 512.34L804.99 512.41L807.55 512.47L810.12 512.54L812.69 512.60L815.27 512.67L817.85 512.73L820.44 512.79L823.03 512.85L825.63 512.91L828.23 512.97L830.83 513.03L833.44 513.09L836.06 513.14L838.68 513.20L841.30 513.25L843.93 513.30L846.57 513.36L849.20 513.41L851.85 513.46L854.50 513.51L857.15 513.56L859.80 513.61L862.47 513.66L865.13 513.71L867.80 513.75L870.48 513.80L873.16 513.85L875.85 513.90L878.54 513.94L881.23 513.99L883.93 514.03L886.63 514.08L889.34 514.12L892.06 514.17L894.77 514.21L897.50 514.26L900.22 514.30L902.96 514.35L905.69 514.39L908.43 514.43L911.18 514.48L913.93 514.52L916.69 514.57L919.45 514.61L922.21 514.66L924.98 514.70L927.76 514.75L930.54 514.79L933.32 514.84L936.11 514.88L938.90 514.93L941.70 514.98L944.50 515.02" stroke="#000000" stroke-width="3.3" fill="none" stroke-linejoin="round" stroke-linecap="square"/>
<path d="M104.50 276.17L105.90 275.82L107.30 275.53L108.71 275.30L110.11 275.13L111.51 275.02L112.91 274.96L114.32 274.95L115.72 275.00L117.12 275.10L118.52 275.26L119.93 275.47L121.33 275.72L122.73 276.03L124.13 276.39L125.54 276.79L126.94 277.24L128.34 277.74L129.74 278.29L131.14 278.88L132.55 279.52L133.95 280.20L135.35 280.92L136.75 281.68L138.16 282.49L139.56 283.34L140.96 284.23L142.36 285.15L143.77 286.12L145.17 287.12L146.57 288.16L147.97 289.23L149.37 290.34L150.78 291.49L152.18 292.66L153.58 293.86L154.98 295.09L156.39 296.35L157.79 297.63L159.19 298.93L160.59 300.26L162.00 301.60L163.40 302.97L164.80 304.35L166.20 305.74L167.61 307.15L169.01 308.57L170.41 310.00L171.81 311.43L173.21 312.88L174.62 314.32L176.02 315.78L177.42 317.23L178.82 318.68L180.23 320.13L181.63 321.58L183.03 323.03L184.43 324.46L185.84 325.89L187.24 327.31L188.64 328.72L190.04 330.11L191.44 331.50L192.85 332.87L194.25 334.23L195.65 335.57L197.05 336.91L198.46 338.24L199.86 339.55L201.26 340.86L202.66 342.16L204.07 343.45L205.47 344.73L206.87 346.01L208.27 347.27L209.68 348.53L211.08 349.79L212.48 351.04L213.88 352.28L215.28 353.52L216.69 354.75L218.09 355.98L219.49 357.20L220.89 358.42L222.30 359.64L223.70 360.86L225.10 362.07L226.50 363.28L227.91 364.50L229.31 365.71L230.71 366.92L232.11 368.13L233.52 369.34L234.92 370.55L236.32 371.76L237.72 372.96L239.12 374.17L240.53 375.38L241.93 376.58L243.33 377.78L244.73 378.98L246.14 380.18L247.54 381.38L248.94 382.57L250.34 383.76L251.75 384.95L253.15 386.14L254.55 387.32L255.95 388.50L257.35 389.67L258.76 390.84L260.16 392.01L261.56 393.17L262.96 394.33L264.37 395.48L265.77 396.62L267.17 397.77L268.57 398.90L269.98 400.03L271.38 401.16L272.78 402.28L274.18 403.39L275.59 404.49L276.99 405.59L278.39 406.68L279.79 407.77L281.19 408.84L282.60 409.91L284.00 410.97L285.40 412.03L286.80 413.07L288.21 414.11L289.61 415.14L291.01 416.16L292.41 417.17L293.82 418.17L295.22 419.16L296.62 420.14L298.02 421.11L299.42 422.08L300.83 423.03L302.23 423.97L303.63 424.91L305.03 425.84L306.44 426.75L307.84 427.66L309.24 428.56L310.64 429.46L312.05 430.34L313.45 431.21L314.85 432.08L316.25 432.94L317.66 433.79L319.06 434.63L320.46 435.46L321.86 436.28L323.26 437.10L324.67 437.91L326.07 438.71L327.47 439.50L328.87 440.29L330.28 441.07L331.68 441.84L333.08 442.60L334.48 443.35L335.89 444.10L337.29 444.84L338.69 445.57L340.09 446.30L341.49 447.02L342.90 447.73L344.30 448.43L345.70 449.13L347.10 449.82L348.51 450.51L349.91 451.19L351.31 451.86L352.71 452.52L354.12 453.18L355.52 453.83L356.92 454.48L358.32 455.12L359.73 455.75L361.13 456.38L362.53 457.00L363.93 457.61L365.33 458.22L366.74 458.82L368.14 459.42L369.54 460.01L370.94 460.60L372.35 461.18L373.75 461.75L375.15 462.32L376.55 462.88L377.96 463.44L379.36 463.99L380.76 464.53L382.16 465.07L383.57 465.61L384.97 466.14L386.37 466.66L387.77 467.18L389.17 467.69L390.58 468.20L391.98 468.70L393.38 469.20L394.78 469.69L396.19 470.18L397.59 470.66L398.99 471.14L400.39 471.62L401.80 472.08L403.20 472.55L404.60 473.00L406.00 473.46L407.40 473.91L408.81 474.35L410.21 474.79L411.61 475.23L413.01 475.66L414.42 476.08L415.82 476.50L417.22 476.92L418.62 477.33L420.03 477.74L421.43 478.15L422.83 478.55L424.23 478.94L425.64 479.34L427.04 479.72L428.44 480.11L429.84 480.49L431.24 480.86L432.65 481.24L434.05 481.60L435.45 481.97L436.85 482.33L438.26 482.69L439.66 483.04L441.06 483.39L442.46 483.73L443.87 484.08L445.27 484.42L446.67 484.75L448.07 485.08L449.47 485.41L450.88 485.74L452.28 486.06L453.68 486.38L455.08 486.69L456.49 487.00L457.89 487.31L459.29 487.61L460.69 487.92L462.10 488.22L463.50 488.51L464.90 488.80L466.30 489.09L467.71 489.38L469.11 489.66L470.51 489.94L471.91 490.22L473.31 490.49L474.72 490.76L476.12 491.03L477.52 491.30L478.92 491.56L480.33 491.82L481.73 492.07L483.13 492.33L484.53 492.58L485.94 492.83L487.34 493.07L488.74 493.32L490.14 493.56L491.55 493.80L492.95 494.03L494.35 494.26L495.75 494.49L497.15 494.72L498.56 494.95L499.96 495.17L501.36 495.39L502.76 495.61L504.17 495.82L505.57 496.04L506.97 496.25L508.37 496.46L509.78 496.66L511.18 496.87L512.58 497.07L513.98 497.27L515.38 497.47L516.79 497.66L518.19 497.86L519.59 498.05L520.99 498.24L522.40 498.43L523.80 498.61L525.20 498.80L526.60 498.98L528.01 499.16L529.41 499.34L530.81 499.51L532.21 499.69L533.62 499.86L535.02 500.03L536.42 500.20L537.82 500.37L539.22 500.53L540.63 500.70L542.03 500.86L543.43 501.02L544.83 501.18L546.24 501.34L547.64 501.50L549.04 501.65L550.44 501.81L551.85 501.96L553.25 502.11L554.65 502.26L556.05 502.41L557.45 502.56L558.86 502.70L560.26 502.85L561.66 502.99L563.06 503.13L564.47 503.28L565.87 503.42L567.27 503.56L568.67 503.69L570.08 503.83L571.48 503.97L572.88 504.10L574.28 504.24L575.69 504.37L577.09 504.50L578.49 504.63L579.89 504.76L581.29 504.89L582.70 505.02L584.10 505.14L585.50 505.27L586.90 505.40L588.31 505.52L589.71 505.64L591.11 505.76L592.51 505.88L593.92 506.00L595.32 506.12L596.72 506.24L598.12 506.36L599.53 506.47L600.93 506.59L602.33 506.70L603.73 506.82L605.13 506.93L606.54 507.04L607.94 507.15L609.34 507.26L610.74 507.37L612.15 507.47L613.55 507.58L614.95 507.69L616.35 507.79L617.76 507.89L619.16 508.00L620.56 508.10L621.96 508.20L623.36 508.30L624.77 508.40L626.17 508.50L627.57 508.59L628.97 508.69L630.38 508.79L631.78 508.88L633.18 508.98L634.58 509.07L635.99 509.16L637.39 509.25L638.79 509.34L640.19 509.43L641.60 509.52L643.00 509.61L644.40 509.70L645.80 509.78L647.20 509.87L648.61 509.95L650.01 510.04L651.41 510.12L652.81 510.20L654.22 510.28L655.62 510.37L657.02 510.45L658.42 510.52L659.83 510.60L661.23 510.68L662.63 510.76L664.03 510.83L665.43 510.91L666.84 510.98L668.24 511.06L669.64 511.13L671.04 511.20L672.45 511.27L673.85 511.34L675.25 511.41L676.65 511.48L678.06 511.55L679.46 511.62L680.86 511.69L682.26 511.75L683.67 511.82L685.07 511.88L686.47 511.95L687.87 512.01L689.27 512.07L690.68 512.14L692.08 512.20L693.48 512.26L694.88 512.32L696.29 512.38L697.69 512.44L699.09 512.50L700.49 512.55L701.90 512.61L703.30 512.67L704.70 512.72L706.10 512.78L707.51 512.83L708.91 512.88L710.31 512.94L711.71 512.99L713.11 513.04L714.52 513.09L715.92 513.14L717.32 513.19L718.72 513.24L720.13 513.29L721.53 513.34L722.93 513.39L724.33 513.43L725.74 513.48L727.14 513.53L728.54 513.57L729.94 513.62L731.34 513.66L732.75 513.70L734.15 513.75L735.55 513.79L736.95 513.83L738.36 513.87L739.76 513.91L741.16 513.95L742.56 513.99L743.97 514.03L745.37 514.07L746.77 514.11L748.17 514.15L749.58 514.18L750.98 514.22L752.38 514.26L753.78 514.29L755.18 514.33L756.59 514.36L757.99 514.40L759.39 514.43L760.79 514.46L762.20 514.49L763.60 514.53L765.00 514.56L766.40 514.59L767.81 514.62L769.21 514.65L770.61 514.68L772.01 514.71L773.41 514.74L774.82 514.77L776.22 514.80L777.62 514.82L779.02 514.85L780.43 514.88L781.83 514.91L783.23 514.93L784.63 514.96L786.04 514.98L787.44 515.01L788.84 515.03L790.24 515.06L791.65 515.08L793.05 515.10L794.45 515.13L795.85 515.15L797.25 515.17L798.66 515.19L800.06 515.21L801.46 515.24L802.86 515.26L804.27 515.28L805.67 515.30L807.07 515.32L808.47 515.34L809.88 515.36L811.28 515.37L812.68 515.39L814.08 515.41L815.48 515.43L816.89 515.45L818.29 515.46L819.69 515.48L821.09 515.50L822.50 515.51L823.90 515.53L825.30 515.55L826.70 515.56L828.11 515.58L829.51 515.59L830.91 515.61L832.31 515.62L833.72 515.64L835.12 515.65L836.52 515.66L837.92 515.68L839.32 515.69L840.73 515.70L842.13 515.72L843.53 515.73L844.93 515.74L846.34 515.75L847.74 515.77L849.14 515.78L850.54 515.79L851.95 515.80L853.35 515.81L854.75 515.82L856.15 515.83L857.56 515.85L858.96 515.86L860.36 515.87L861.76 515.88L863.16 515.89L864.57 515.90L865.97 515.91L867.37 515.91L868.77 515.92L870.18 515.93L871.58 515.94L872.98 515.95L874.38 515.96L875.79 515.97L877.19 515.98L878.59 515.99L879.99 515.99L881.39 516.00L882.80 516.01L884.20 516.02L885.60 516.03L887.00 516.03L888.41 516.04L889.81 516.05L891.21 516.06L892.61 516.06L894.02 516.07L895.42 516.08L896.82 516.09L898.22 516.09L899.63 516.10L901.03 516.11L902.43 516.12L903.83 516.12L905.23 516.13L906.64 516.14L908.04 516.14L909.44 516.15L910.84 516.16L912.25 516.16L913.65 516.17L915.05 516.18L916.45 516.18L917.86 516.19L919.26 516.20L920.66 516.21L922.06 516.21L923.46 516.22L924.87 516.23L926.27 516.23L927.67 516.24L929.07 516.25L930.48 516.25L931.88 516.26L933.28 516.27L934.68 516.28L936.09 516.28L937.49 516.29L938.89 516.30L940.29 516.31L941.70 516.31L943.10 516.32L944.50 516.33L946.20 516.33" stroke="#ff0000" stroke-width="3.3" fill="none" stroke-dasharray="12 5.5" stroke-dashoffset="1.7" stroke-linecap="butt"/>
<path d="M104.50 277.61L105.90 277.21L107.30 276.90L108.71 276.68L110.11 276.54L111.51 276.47L112.91 276.49L114.32 276.57L115.72 276.73L117.12 276.96L118.52 277.26L119.93 277.63L121.33 278.06L122.73 278.54L124.13 279.09L125.54 279.69L126.94 280.35L128.34 281.06L129.74 281.82L131.14 282.62L132.55 283.47L133.95 284.37L135.35 285.30L136.75 286.27L138.16 287.28L139.56 288.32L140.96 289.39L142.36 290.49L143.77 291.61L145.17 292.76L146.57 293.94L147.97 295.13L149.37 296.34L150.78 297.57L152.18 298.81L153.58 300.08L154.98 301.35L156.39 302.65L157.79 303.96L159.19 305.28L160.59 306.62L162.00 307.97L163.40 309.33L164.80 310.70L166.20 312.08L167.61 313.47L169.01 314.88L170.41 316.29L171.81 317.70L173.21 319.13L174.62 320.56L176.02 322.00L177.42 323.44L178.82 324.88L180.23 326.33L181.63 327.79L183.03 329.24L184.43 330.70L185.84 332.16L187.24 333.61L188.64 335.07L190.04 336.53L191.44 337.98L192.85 339.43L194.25 340.89L195.65 342.33L197.05 343.78L198.46 345.23L199.86 346.67L201.26 348.11L202.66 349.54L204.07 350.98L205.47 352.41L206.87 353.83L208.27 355.25L209.68 356.67L211.08 358.09L212.48 359.49L213.88 360.90L215.28 362.30L216.69 363.69L218.09 365.08L219.49 366.47L220.89 367.85L222.30 369.22L223.70 370.59L225.10 371.95L226.50 373.30L227.91 374.65L229.31 375.99L230.71 377.32L232.11 378.65L233.52 379.97L234.92 381.28L236.32 382.59L237.72 383.88L239.12 385.17L240.53 386.45L241.93 387.73L243.33 388.99L244.73 390.25L246.14 391.50L247.54 392.74L248.94 393.98L250.34 395.20L251.75 396.42L253.15 397.63L254.55 398.83L255.95 400.02L257.35 401.21L258.76 402.38L260.16 403.55L261.56 404.71L262.96 405.86L264.37 407.00L265.77 408.13L267.17 409.25L268.57 410.37L269.98 411.47L271.38 412.56L272.78 413.65L274.18 414.73L275.59 415.79L276.99 416.85L278.39 417.90L279.79 418.94L281.19 419.97L282.60 420.98L284.00 421.99L285.40 422.99L286.80 423.98L288.21 424.96L289.61 425.93L291.01 426.88L292.41 427.83L293.82 428.77L295.22 429.70L296.62 430.61L298.02 431.52L299.42 432.42L300.83 433.30L302.23 434.18L303.63 435.05L305.03 435.90L306.44 436.75L307.84 437.59L309.24 438.42L310.64 439.24L312.05 440.05L313.45 440.86L314.85 441.65L316.25 442.44L317.66 443.21L319.06 443.98L320.46 444.74L321.86 445.50L323.26 446.24L324.67 446.98L326.07 447.71L327.47 448.43L328.87 449.14L330.28 449.85L331.68 450.55L333.08 451.24L334.48 451.93L335.89 452.61L337.29 453.28L338.69 453.95L340.09 454.61L341.49 455.26L342.90 455.91L344.30 456.55L345.70 457.18L347.10 457.81L348.51 458.44L349.91 459.05L351.31 459.67L352.71 460.27L354.12 460.88L355.52 461.47L356.92 462.06L358.32 462.65L359.73 463.23L361.13 463.81L362.53 464.38L363.93 464.95L365.33 465.51L366.74 466.07L368.14 466.63L369.54 467.17L370.94 467.72L372.35 468.26L373.75 468.79L375.15 469.32L376.55 469.85L377.96 470.37L379.36 470.88L380.76 471.39L382.16 471.90L383.57 472.40L384.97 472.90L386.37 473.39L387.77 473.88L389.17 474.36L390.58 474.84L391.98 475.32L393.38 475.79L394.78 476.25L396.19 476.71L397.59 477.17L398.99 477.62L400.39 478.07L401.80 478.51L403.20 478.95L404.60 479.38L406.00 479.81L407.40 480.24L408.81 480.66L410.21 481.08L411.61 481.49L413.01 481.90L414.42 482.30L415.82 482.70L417.22 483.09L418.62 483.48L420.03 483.87L421.43 484.25L422.83 484.63L424.23 485.00L425.64 485.37L427.04 485.74L428.44 486.10L429.84 486.45L431.24 486.81L432.65 487.15L434.05 487.50L435.45 487.84L436.85 488.17L438.26 488.51L439.66 488.83L441.06 489.16L442.46 489.47L443.87 489.79L445.27 490.10L446.67 490.41L448.07 490.71L449.47 491.01L450.88 491.31L452.28 491.60L453.68 491.89L455.08 492.17L456.49 492.45L457.89 492.73L459.29 493.00L460.69 493.27L462.10 493.54L463.50 493.80L464.90 494.06L466.30 494.31L467.71 494.57L469.11 494.81L470.51 495.06L471.91 495.30L473.31 495.54L474.72 495.78L476.12 496.01L477.52 496.24L478.92 496.46L480.33 496.69L481.73 496.91L483.13 497.12L484.53 497.34L485.94 497.55L487.34 497.76L488.74 497.96L490.14 498.17L491.55 498.37L492.95 498.56L494.35 498.76L495.75 498.95L497.15 499.14L498.56 499.32L499.96 499.51L501.36 499.69L502.76 499.87L504.17 500.05L505.57 500.22L506.97 500.39L508.37 500.56L509.78 500.73L511.18 500.89L512.58 501.06L513.98 501.22L515.38 501.37L516.79 501.53L518.19 501.69L519.59 501.84L520.99 501.99L522.40 502.14L523.80 502.28L525.20 502.43L526.60 502.57L528.01 502.71L529.41 502.85L530.81 502.99L532.21 503.12L533.62 503.26L535.02 503.39L536.42 503.52L537.82 503.65L539.22 503.78L540.63 503.90L542.03 504.03L543.43 504.15L544.83 504.27L546.24 504.39L547.64 504.51L549.04 504.63L550.44 504.75L551.85 504.86L553.25 504.98L554.65 505.09L556.05 505.20L557.45 505.31L558.86 505.42L560.26 505.53L561.66 505.64L563.06 505.75L564.47 505.86L565.87 505.96L567.27 506.07L568.67 506.17L570.08 506.28L571.48 506.38L572.88 506.48L574.28 506.58L575.69 506.68L577.09 506.78L578.49 506.88L579.89 506.98L581.29 507.08L582.70 507.18L584.10 507.27L585.50 507.37L586.90 507.46L588.31 507.56L589.71 507.65L591.11 507.74L592.51 507.84L593.92 507.93L595.32 508.02L596.72 508.11L598.12 508.20L599.53 508.29L600.93 508.38L602.33 508.46L603.73 508.55L605.13 508.64L606.54 508.72L607.94 508.81L609.34 508.89L610.74 508.97L612.15 509.06L613.55 509.14L614.95 509.22L616.35 509.30L617.76 509.38L619.16 509.46L620.56 509.54L621.96 509.62L623.36 509.69L624.77 509.77L626.17 509.85L627.57 509.92L628.97 510.00L630.38 510.07L631.78 510.15L633.18 510.22L634.58 510.29L635.99 510.36L637.39 510.44L638.79 510.51L640.19 510.58L641.60 510.65L643.00 510.71L644.40 510.78L645.80 510.85L647.20 510.92L648.61 510.98L650.01 511.05L651.41 511.12L652.81 511.18L654.22 511.25L655.62 511.31L657.02 511.37L658.42 511.43L659.83 511.50L661.23 511.56L662.63 511.62L664.03 511.68L665.43 511.74L666.84 511.80L668.24 511.86L669.64 511.92L671.04 511.97L672.45 512.03L673.85 512.09L675.25 512.14L676.65 512.20L678.06 512.25L679.46 512.31L680.86 512.36L682.26 512.42L683.67 512.47L685.07 512.52L686.47 512.57L687.87 512.62L689.27 512.67L690.68 512.73L692.08 512.78L693.48 512.82L694.88 512.87L696.29 512.92L697.69 512.97L699.09 513.02L700.49 513.06L701.90 513.11L703.30 513.16L704.70 513.20L706.10 513.25L707.51 513.29L708.91 513.34L710.31 513.38L711.71 513.42L713.11 513.47L714.52 513.51L715.92 513.55L717.32 513.59L718.72 513.63L720.13 513.67L721.53 513.71L722.93 513.75L724.33 513.79L725.74 513.83L727.14 513.87L728.54 513.91L729.94 513.95L731.34 513.98L732.75 514.02L734.15 514.06L735.55 514.09L736.95 514.13L738.36 514.16L739.76 514.20L741.16 514.23L742.56 514.27L743.97 514.30L745.37 514.33L746.77 514.37L748.17 514.40L749.58 514.43L750.98 514.46L752.38 514.49L753.78 514.52L755.18 514.55L756.59 514.58L757.99 514.61L759.39 514.64L760.79 514.67L762.20 514.70L763.60 514.73L765.00 514.76L766.40 514.79L767.81 514.81L769.21 514.84L770.61 514.87L772.01 514.89L773.41 514.92L774.82 514.95L776.22 514.97L777.62 515.00L779.02 515.02L780.43 515.04L781.83 515.07L783.23 515.09L784.63 515.12L786.04 515.14L787.44 515.16L788.84 515.19L790.24 515.21L791.65 515.23L793.05 515.25L794.45 515.27L795.85 515.29L797.25 515.31L798.66 515.34L800.06 515.36L801.46 515.38L802.86 515.40L804.27 515.41L805.67 515.43L807.07 515.45L808.47 515.47L809.88 515.49L811.28 515.51L812.68 515.53L814.08 515.54L815.48 515.56L816.89 515.58L818.29 515.60L819.69 515.61L821.09 515.63L822.50 515.65L823.90 515.66L825.30 515.68L826.70 515.69L828.11 515.71L829.51 515.72L830.91 515.74L832.31 515.75L833.72 515.77L835.12 515.78L836.52 515.80L837.92 515.81L839.32 515.82L840.73 515.84L842.13 515.85L843.53 515.86L844.93 515.88L846.34 515.89L847.74 515.90L849.14 515.92L850.54 515.93L851.95 515.94L853.35 515.95L854.75 515.96L856.15 515.98L857.56 515.99L858.96 516.00L860.36 516.01L861.76 516.02L863.16 516.03L864.57 516.04L865.97 516.05L867.37 516.06L868.77 516.07L870.18 516.08L871.58 516.09L872.98 516.10L874.38 516.11L875.79 516.12L877.19 516.13L878.59 516.14L879.99 516.15L881.39 516.16L882.80 516.17L884.20 516.18L885.60 516.19L887.00 516.20L888.41 516.21L889.81 516.22L891.21 516.22L892.61 516.23L894.02 516.24L895.42 516.25L896.82 516.26L898.22 516.27L899.63 516.27L901.03 516.28L902.43 516.29L903.83 516.30L905.23 516.31L906.64 516.31L908.04 516.32L909.44 516.33L910.84 516.34L912.25 516.34L913.65 516.35L915.05 516.36L916.45 516.37L917.86 516.37L919.26 516.38L920.66 516.39L922.06 516.40L923.46 516.40L924.87 516.41L926.27 516.42L927.67 516.43L929.07 516.43L930.48 516.44L931.88 516.45L933.28 516.45L934.68 516.46L936.09 516.47L937.49 516.48L938.89 516.48L940.29 516.49L941.70 516.50L943.10 516.50L944.50 516.51L946.20 516.51" stroke="#ff00ff" stroke-width="3.3" fill="none" stroke-dasharray="12 5.5" stroke-dashoffset="1.7" stroke-linecap="butt"/>
<path d="M104.50 278.90L105.90 278.55L107.30 278.31L108.71 278.16L110.11 278.11L111.51 278.14L112.91 278.26L114.32 278.47L115.72 278.75L117.12 279.11L118.52 279.55L119.93 280.05L121.33 280.63L122.73 281.27L124.13 281.97L125.54 282.73L126.94 283.55L128.34 284.42L129.74 285.33L131.14 286.30L132.55 287.31L133.95 288.35L135.35 289.44L136.75 290.56L138.16 291.71L139.56 292.89L140.96 294.09L142.36 295.32L143.77 296.56L145.17 297.82L146.57 299.09L147.97 300.38L149.37 301.67L150.78 302.97L152.18 304.28L153.58 305.60L154.98 306.93L156.39 308.27L157.79 309.61L159.19 310.97L160.59 312.33L162.00 313.70L163.40 315.08L164.80 316.47L166.20 317.87L167.61 319.27L169.01 320.68L170.41 322.10L171.81 323.52L173.21 324.96L174.62 326.39L176.02 327.84L177.42 329.29L178.82 330.75L180.23 332.22L181.63 333.69L183.03 335.17L184.43 336.65L185.84 338.14L187.24 339.64L188.64 341.14L190.04 342.65L191.44 344.16L192.85 345.68L194.25 347.20L195.65 348.72L197.05 350.24L198.46 351.77L199.86 353.30L201.26 354.83L202.66 356.36L204.07 357.89L205.47 359.42L206.87 360.94L208.27 362.47L209.68 363.99L211.08 365.51L212.48 367.02L213.88 368.53L215.28 370.04L216.69 371.54L218.09 373.03L219.49 374.52L220.89 375.99L222.30 377.47L223.70 378.93L225.10 380.38L226.50 381.83L227.91 383.26L229.31 384.68L230.71 386.10L232.11 387.49L233.52 388.88L234.92 390.26L236.32 391.62L237.72 392.98L239.12 394.32L240.53 395.65L241.93 396.96L243.33 398.27L244.73 399.56L246.14 400.85L247.54 402.12L248.94 403.38L250.34 404.62L251.75 405.86L253.15 407.08L254.55 408.30L255.95 409.50L257.35 410.69L258.76 411.87L260.16 413.03L261.56 414.19L262.96 415.33L264.37 416.47L265.77 417.59L267.17 418.70L268.57 419.80L269.98 420.89L271.38 421.96L272.78 423.03L274.18 424.08L275.59 425.13L276.99 426.16L278.39 427.18L279.79 428.19L281.19 429.19L282.60 430.17L284.00 431.15L285.40 432.12L286.80 433.07L288.21 434.01L289.61 434.95L291.01 435.87L292.41 436.78L293.82 437.68L295.22 438.57L296.62 439.45L298.02 440.31L299.42 441.17L300.83 442.02L302.23 442.86L303.63 443.68L305.03 444.50L306.44 445.31L307.84 446.11L309.24 446.89L310.64 447.67L312.05 448.44L313.45 449.20L314.85 449.95L316.25 450.70L317.66 451.43L319.06 452.16L320.46 452.88L321.86 453.59L323.26 454.29L324.67 454.98L326.07 455.67L327.47 456.34L328.87 457.01L330.28 457.68L331.68 458.33L333.08 458.98L334.48 459.62L335.89 460.26L337.29 460.88L338.69 461.51L340.09 462.12L341.49 462.73L342.90 463.33L344.30 463.93L345.70 464.52L347.10 465.10L348.51 465.68L349.91 466.26L351.31 466.82L352.71 467.39L354.12 467.94L355.52 468.50L356.92 469.05L358.32 469.59L359.73 470.13L361.13 470.66L362.53 471.19L363.93 471.72L365.33 472.24L366.74 472.75L368.14 473.26L369.54 473.77L370.94 474.27L372.35 474.77L373.75 475.26L375.15 475.75L376.55 476.23L377.96 476.71L379.36 477.19L380.76 477.66L382.16 478.12L383.57 478.58L384.97 479.04L386.37 479.49L387.77 479.94L389.17 480.38L390.58 480.82L391.98 481.26L393.38 481.69L394.78 482.11L396.19 482.54L397.59 482.95L398.99 483.37L400.39 483.77L401.80 484.18L403.20 484.58L404.60 484.97L406.00 485.37L407.40 485.75L408.81 486.14L410.21 486.52L411.61 486.89L413.01 487.26L414.42 487.63L415.82 487.99L417.22 488.35L418.62 488.70L420.03 489.05L421.43 489.40L422.83 489.74L424.23 490.08L425.64 490.41L427.04 490.74L428.44 491.06L429.84 491.38L431.24 491.70L432.65 492.01L434.05 492.32L435.45 492.63L436.85 492.93L438.26 493.23L439.66 493.52L441.06 493.81L442.46 494.10L443.87 494.38L445.27 494.66L446.67 494.93L448.07 495.20L449.47 495.47L450.88 495.73L452.28 495.99L453.68 496.25L455.08 496.50L456.49 496.75L457.89 496.99L459.29 497.23L460.69 497.47L462.10 497.71L463.50 497.94L464.90 498.17L466.30 498.39L467.71 498.61L469.11 498.83L470.51 499.05L471.91 499.26L473.31 499.47L474.72 499.67L476.12 499.88L477.52 500.08L478.92 500.27L480.33 500.47L481.73 500.66L483.13 500.85L484.53 501.03L485.94 501.22L487.34 501.40L488.74 501.57L490.14 501.75L491.55 501.92L492.95 502.09L494.35 502.26L495.75 502.42L497.15 502.58L498.56 502.74L499.96 502.90L501.36 503.05L502.76 503.21L504.17 503.36L505.57 503.50L506.97 503.65L508.37 503.79L509.78 503.93L511.18 504.07L512.58 504.21L513.98 504.35L515.38 504.48L516.79 504.61L518.19 504.74L519.59 504.87L520.99 504.99L522.40 505.12L523.80 505.24L525.20 505.36L526.60 505.48L528.01 505.59L529.41 505.71L530.81 505.82L532.21 505.93L533.62 506.04L535.02 506.15L536.42 506.26L537.82 506.37L539.22 506.47L540.63 506.57L542.03 506.68L543.43 506.78L544.83 506.88L546.24 506.97L547.64 507.07L549.04 507.17L550.44 507.26L551.85 507.36L553.25 507.45L554.65 507.54L556.05 507.63L557.45 507.72L558.86 507.81L560.26 507.90L561.66 507.99L563.06 508.07L564.47 508.16L565.87 508.24L567.27 508.33L568.67 508.41L570.08 508.50L571.48 508.58L572.88 508.66L574.28 508.74L575.69 508.82L577.09 508.90L578.49 508.98L579.89 509.06L581.29 509.14L582.70 509.22L584.10 509.30L585.50 509.37L586.90 509.45L588.31 509.52L589.71 509.60L591.11 509.67L592.51 509.75L593.92 509.82L595.32 509.89L596.72 509.96L598.12 510.04L599.53 510.11L600.93 510.18L602.33 510.25L603.73 510.31L605.13 510.38L606.54 510.45L607.94 510.52L609.34 510.59L610.74 510.65L612.15 510.72L613.55 510.78L614.95 510.85L616.35 510.91L617.76 510.97L619.16 511.04L620.56 511.10L621.96 511.16L623.36 511.22L624.77 511.28L626.17 511.34L627.57 511.40L628.97 511.46L630.38 511.52L631.78 511.58L633.18 511.64L634.58 511.70L635.99 511.75L637.39 511.81L638.79 511.86L640.19 511.92L641.60 511.97L643.00 512.03L644.40 512.08L645.80 512.13L647.20 512.19L648.61 512.24L650.01 512.29L651.41 512.34L652.81 512.39L654.22 512.44L655.62 512.49L657.02 512.54L658.42 512.59L659.83 512.64L661.23 512.69L662.63 512.74L664.03 512.78L665.43 512.83L666.84 512.88L668.24 512.92L669.64 512.97L671.04 513.01L672.45 513.06L673.85 513.10L675.25 513.14L676.65 513.19L678.06 513.23L679.46 513.27L680.86 513.31L682.26 513.36L683.67 513.40L685.07 513.44L686.47 513.48L687.87 513.52L689.27 513.56L690.68 513.60L692.08 513.63L693.48 513.67L694.88 513.71L696.29 513.75L697.69 513.79L699.09 513.82L700.49 513.86L701.90 513.89L703.30 513.93L704.70 513.96L706.10 514.00L707.51 514.03L708.91 514.07L710.31 514.10L711.71 514.13L713.11 514.17L714.52 514.20L715.92 514.23L717.32 514.26L718.72 514.30L720.13 514.33L721.53 514.36L722.93 514.39L724.33 514.42L725.74 514.45L727.14 514.48L728.54 514.51L729.94 514.54L731.34 514.56L732.75 514.59L734.15 514.62L735.55 514.65L736.95 514.68L738.36 514.70L739.76 514.73L741.16 514.76L742.56 514.78L743.97 514.81L745.37 514.83L746.77 514.86L748.17 514.88L749.58 514.91L750.98 514.93L752.38 514.95L753.78 514.98L755.18 515.00L756.59 515.02L757.99 515.05L759.39 515.07L760.79 515.09L762.20 515.11L763.60 515.14L765.00 515.16L766.40 515.18L767.81 515.20L769.21 515.22L770.61 515.24L772.01 515.26L773.41 515.28L774.82 515.30L776.22 515.32L777.62 515.34L779.02 515.36L780.43 515.38L781.83 515.40L783.23 515.41L784.63 515.43L786.04 515.45L787.44 515.47L788.84 515.49L790.24 515.50L791.65 515.52L793.05 515.54L794.45 515.55L795.85 515.57L797.25 515.59L798.66 515.60L800.06 515.62L801.46 515.63L802.86 515.65L804.27 515.66L805.67 515.68L807.07 515.69L808.47 515.71L809.88 515.72L811.28 515.74L812.68 515.75L814.08 515.77L815.48 515.78L816.89 515.79L818.29 515.81L819.69 515.82L821.09 515.83L822.50 515.85L823.90 515.86L825.30 515.87L826.70 515.88L828.11 515.90L829.51 515.91L830.91 515.92L832.31 515.93L833.72 515.95L835.12 515.96L836.52 515.97L837.92 515.98L839.32 515.99L840.73 516.00L842.13 516.01L843.53 516.03L844.93 516.04L846.34 516.05L847.74 516.06L849.14 516.07L850.54 516.08L851.95 516.09L853.35 516.10L854.75 516.11L856.15 516.12L857.56 516.13L858.96 516.14L860.36 516.15L861.76 516.16L863.16 516.17L864.57 516.18L865.97 516.19L867.37 516.20L868.77 516.21L870.18 516.22L871.58 516.23L872.98 516.24L874.38 516.25L875.79 516.25L877.19 516.26L878.59 516.27L879.99 516.28L881.39 516.29L882.80 516.30L884.20 516.31L885.60 516.32L887.00 516.33L888.41 516.34L889.81 516.34L891.21 516.35L892.61 516.36L894.02 516.37L895.42 516.38L896.82 516.39L898.22 516.40L899.63 516.41L901.03 516.42L902.43 516.42L903.83 516.43L905.23 516.44L906.64 516.45L908.04 516.46L909.44 516.47L910.84 516.48L912.25 516.49L913.65 516.49L915.05 516.50L916.45 516.51L917.86 516.52L919.26 516.53L920.66 516.54L922.06 516.55L923.46 516.56L924.87 516.57L926.27 516.57L927.67 516.58L929.07 516.59L930.48 516.60L931.88 516.61L933.28 516.62L934.68 516.63L936.09 516.64L937.49 516.65L938.89 516.66L940.29 516.67L941.70 516.68L943.10 516.69L944.50 516.70L946.20 516.70" stroke="#0000ff" stroke-width="3.3" fill="none" stroke-dasharray="12 5.5" stroke-dashoffset="1.7" stroke-linecap="butt"/>
<path d="M104.50 280.03L105.90 279.85L107.30 279.75L108.71 279.75L110.11 279.85L111.51 280.02L112.91 280.29L114.32 280.63L115.72 281.05L117.12 281.54L118.52 282.11L119.93 282.74L121.33 283.44L122.73 284.20L124.13 285.02L125.54 285.90L126.94 286.83L128.34 287.81L129.74 288.83L131.14 289.90L132.55 291.01L133.95 292.16L135.35 293.34L136.75 294.55L138.16 295.79L139.56 297.05L140.96 298.34L142.36 299.64L143.77 300.96L145.17 302.29L146.57 303.63L147.97 304.98L149.37 306.34L150.78 307.70L152.18 309.06L153.58 310.44L154.98 311.82L156.39 313.20L157.79 314.60L159.19 316.00L160.59 317.40L162.00 318.82L163.40 320.24L164.80 321.66L166.20 323.10L167.61 324.53L169.01 325.98L170.41 327.43L171.81 328.89L173.21 330.36L174.62 331.83L176.02 333.31L177.42 334.80L178.82 336.29L180.23 337.79L181.63 339.30L183.03 340.81L184.43 342.33L185.84 343.86L187.24 345.39L188.64 346.93L190.04 348.48L191.44 350.03L192.85 351.59L194.25 353.16L195.65 354.73L197.05 356.30L198.46 357.87L199.86 359.45L201.26 361.03L202.66 362.61L204.07 364.18L205.47 365.76L206.87 367.34L208.27 368.91L209.68 370.48L211.08 372.05L212.48 373.61L213.88 375.17L215.28 376.73L216.69 378.27L218.09 379.81L219.49 381.34L220.89 382.87L222.30 384.38L223.70 385.88L225.10 387.38L226.50 388.86L227.91 390.33L229.31 391.79L230.71 393.23L232.11 394.66L233.52 396.08L234.92 397.48L236.32 398.87L237.72 400.25L239.12 401.61L240.53 402.96L241.93 404.29L243.33 405.61L244.73 406.92L246.14 408.22L247.54 409.50L248.94 410.77L250.34 412.02L251.75 413.27L253.15 414.50L254.55 415.71L255.95 416.92L257.35 418.11L258.76 419.29L260.16 420.46L261.56 421.61L262.96 422.75L264.37 423.88L265.77 425.00L267.17 426.11L268.57 427.20L269.98 428.28L271.38 429.35L272.78 430.41L274.18 431.46L275.59 432.49L276.99 433.51L278.39 434.52L279.79 435.52L281.19 436.51L282.60 437.49L284.00 438.45L285.40 439.41L286.80 440.35L288.21 441.28L289.61 442.20L291.01 443.11L292.41 444.01L293.82 444.90L295.22 445.77L296.62 446.64L298.02 447.50L299.42 448.34L300.83 449.18L302.23 450.00L303.63 450.82L305.03 451.62L306.44 452.42L307.84 453.20L309.24 453.98L310.64 454.75L312.05 455.50L313.45 456.25L314.85 456.99L316.25 457.72L317.66 458.44L319.06 459.15L320.46 459.85L321.86 460.55L323.26 461.23L324.67 461.91L326.07 462.58L327.47 463.24L328.87 463.89L330.28 464.54L331.68 465.17L333.08 465.80L334.48 466.42L335.89 467.04L337.29 467.65L338.69 468.24L340.09 468.84L341.49 469.42L342.90 470.00L344.30 470.57L345.70 471.14L347.10 471.69L348.51 472.24L349.91 472.79L351.31 473.33L352.71 473.86L354.12 474.39L355.52 474.91L356.92 475.42L358.32 475.93L359.73 476.43L361.13 476.93L362.53 477.42L363.93 477.91L365.33 478.39L366.74 478.86L368.14 479.33L369.54 479.80L370.94 480.25L372.35 480.71L373.75 481.16L375.15 481.60L376.55 482.04L377.96 482.47L379.36 482.90L380.76 483.32L382.16 483.74L383.57 484.15L384.97 484.56L386.37 484.96L387.77 485.36L389.17 485.75L390.58 486.14L391.98 486.52L393.38 486.90L394.78 487.28L396.19 487.65L397.59 488.01L398.99 488.37L400.39 488.73L401.80 489.08L403.20 489.43L404.60 489.77L406.00 490.11L407.40 490.45L408.81 490.78L410.21 491.11L411.61 491.43L413.01 491.75L414.42 492.06L415.82 492.37L417.22 492.68L418.62 492.98L420.03 493.28L421.43 493.58L422.83 493.87L424.23 494.16L425.64 494.44L427.04 494.73L428.44 495.00L429.84 495.28L431.24 495.55L432.65 495.82L434.05 496.08L435.45 496.34L436.85 496.60L438.26 496.85L439.66 497.11L441.06 497.35L442.46 497.60L443.87 497.84L445.27 498.08L446.67 498.32L448.07 498.55L449.47 498.78L450.88 499.01L452.28 499.23L453.68 499.45L455.08 499.67L456.49 499.89L457.89 500.10L459.29 500.31L460.69 500.52L462.10 500.73L463.50 500.93L464.90 501.13L466.30 501.33L467.71 501.52L469.11 501.71L470.51 501.90L471.91 502.09L473.31 502.27L474.72 502.46L476.12 502.63L477.52 502.81L478.92 502.99L480.33 503.16L481.73 503.33L483.13 503.50L484.53 503.66L485.94 503.83L487.34 503.99L488.74 504.15L490.14 504.30L491.55 504.46L492.95 504.61L494.35 504.76L495.75 504.91L497.15 505.05L498.56 505.20L499.96 505.34L501.36 505.48L502.76 505.62L504.17 505.76L505.57 505.89L506.97 506.02L508.37 506.15L509.78 506.28L511.18 506.41L512.58 506.54L513.98 506.66L515.38 506.78L516.79 506.90L518.19 507.02L519.59 507.14L520.99 507.25L522.40 507.37L523.80 507.48L525.20 507.59L526.60 507.70L528.01 507.81L529.41 507.91L530.81 508.02L532.21 508.12L533.62 508.23L535.02 508.33L536.42 508.43L537.82 508.52L539.22 508.62L540.63 508.72L542.03 508.81L543.43 508.91L544.83 509.00L546.24 509.09L547.64 509.18L549.04 509.27L550.44 509.36L551.85 509.44L553.25 509.53L554.65 509.61L556.05 509.70L557.45 509.78L558.86 509.86L560.26 509.94L561.66 510.03L563.06 510.11L564.47 510.18L565.87 510.26L567.27 510.34L568.67 510.42L570.08 510.49L571.48 510.57L572.88 510.64L574.28 510.72L575.69 510.79L577.09 510.86L578.49 510.93L579.89 511.00L581.29 511.08L582.70 511.14L584.10 511.21L585.50 511.28L586.90 511.35L588.31 511.42L589.71 511.48L591.11 511.55L592.51 511.61L593.92 511.68L595.32 511.74L596.72 511.81L598.12 511.87L599.53 511.93L600.93 511.99L602.33 512.05L603.73 512.11L605.13 512.17L606.54 512.23L607.94 512.29L609.34 512.34L610.74 512.40L612.15 512.46L613.55 512.51L614.95 512.57L616.35 512.62L617.76 512.68L619.16 512.73L620.56 512.78L621.96 512.83L623.36 512.89L624.77 512.94L626.17 512.99L627.57 513.04L628.97 513.09L630.38 513.13L631.78 513.18L633.18 513.23L634.58 513.28L635.99 513.32L637.39 513.37L638.79 513.42L640.19 513.46L641.60 513.50L643.00 513.55L644.40 513.59L645.80 513.63L647.20 513.68L648.61 513.72L650.01 513.76L651.41 513.80L652.81 513.84L654.22 513.88L655.62 513.92L657.02 513.96L658.42 514.00L659.83 514.03L661.23 514.07L662.63 514.11L664.03 514.14L665.43 514.18L666.84 514.22L668.24 514.25L669.64 514.28L671.04 514.32L672.45 514.35L673.85 514.39L675.25 514.42L676.65 514.45L678.06 514.48L679.46 514.51L680.86 514.54L682.26 514.57L683.67 514.60L685.07 514.63L686.47 514.66L687.87 514.69L689.27 514.72L690.68 514.75L692.08 514.78L693.48 514.80L694.88 514.83L696.29 514.86L697.69 514.88L699.09 514.91L700.49 514.93L701.90 514.96L703.30 514.98L704.70 515.01L706.10 515.03L707.51 515.06L708.91 515.08L710.31 515.10L711.71 515.12L713.11 515.15L714.52 515.17L715.92 515.19L717.32 515.21L718.72 515.23L720.13 515.25L721.53 515.27L722.93 515.29L724.33 515.31L725.74 515.33L727.14 515.35L728.54 515.37L729.94 515.39L731.34 515.40L732.75 515.42L734.15 515.44L735.55 515.46L736.95 515.47L738.36 515.49L739.76 515.51L741.16 515.52L742.56 515.54L743.97 515.55L745.37 515.57L746.77 515.58L748.17 515.60L749.58 515.61L750.98 515.63L752.38 515.64L753.78 515.66L755.18 515.67L756.59 515.68L757.99 515.70L759.39 515.71L760.79 515.72L762.20 515.73L763.60 515.75L765.00 515.76L766.40 515.77L767.81 515.78L769.21 515.79L770.61 515.80L772.01 515.81L773.41 515.82L774.82 515.84L776.22 515.85L777.62 515.86L779.02 515.87L780.43 515.88L781.83 515.89L783.23 515.90L784.63 515.91L786.04 515.91L787.44 515.92L788.84 515.93L790.24 515.94L791.65 515.95L793.05 515.96L794.45 515.97L795.85 515.98L797.25 515.98L798.66 515.99L800.06 516.00L801.46 516.01L802.86 516.02L804.27 516.02L805.67 516.03L807.07 516.04L808.47 516.05L809.88 516.05L811.28 516.06L812.68 516.07L814.08 516.07L815.48 516.08L816.89 516.09L818.29 516.10L819.69 516.10L821.09 516.11L822.50 516.12L823.90 516.12L825.30 516.13L826.70 516.13L828.11 516.14L829.51 516.15L830.91 516.15L832.31 516.16L833.72 516.17L835.12 516.17L836.52 516.18L837.92 516.19L839.32 516.19L840.73 516.20L842.13 516.20L843.53 516.21L844.93 516.22L846.34 516.22L847.74 516.23L849.14 516.24L850.54 516.24L851.95 516.25L853.35 516.25L854.75 516.26L856.15 516.27L857.56 516.27L858.96 516.28L860.36 516.29L861.76 516.29L863.16 516.30L864.57 516.31L865.97 516.31L867.37 516.32L868.77 516.33L870.18 516.33L871.58 516.34L872.98 516.35L874.38 516.35L875.79 516.36L877.19 516.37L878.59 516.38L879.99 516.38L881.39 516.39L882.80 516.40L884.20 516.41L885.60 516.41L887.00 516.42L888.41 516.43L889.81 516.44L891.21 516.45L892.61 516.45L894.02 516.46L895.42 516.47L896.82 516.48L898.22 516.49L899.63 516.50L901.03 516.51L902.43 516.52L903.83 516.53L905.23 516.54L906.64 516.55L908.04 516.56L909.44 516.57L910.84 516.58L912.25 516.59L913.65 516.60L915.05 516.61L916.45 516.62L917.86 516.63L919.26 516.64L920.66 516.66L922.06 516.67L923.46 516.68L924.87 516.69L926.27 516.70L927.67 516.72L929.07 516.73L930.48 516.74L931.88 516.76L933.28 516.77L934.68 516.78L936.09 516.80L937.49 516.81L938.89 516.83L940.29 516.84L941.70 516.86L943.10 516.87L944.50 516.89L946.20 516.89" stroke="#000000" stroke-width="3.3" fill="none" stroke-dasharray="12 5.5" stroke-dashoffset="1.7" stroke-linecap="butt"/>
<path d="M296.5 127.2L150.6 419" stroke="#000" stroke-width="1.3"/>
<path d="M134.3 451.2 L142.3 411.8 L150.2 419.6 L161.1 421.1 Z" fill="#000"/>
<g font-family="Liberation Sans, sans-serif" font-size="32" fill="#000"><text x="84.20" y="527.00" text-anchor="end">0.0</text><text x="104.50" y="575.40" text-anchor="middle">0.0</text><text x="84.20" y="405.00" text-anchor="end">0.5</text><text x="314.50" y="575.40" text-anchor="middle">0.5</text><text x="84.20" y="283.00" text-anchor="end">1.0</text><text x="524.50" y="575.40" text-anchor="middle">1.0</text><text x="84.20" y="161.00" text-anchor="end">1.5</text><text x="734.50" y="575.40" text-anchor="middle">1.5</text><text x="84.20" y="39.00" text-anchor="end">2.0</text><text x="944.50" y="575.40" text-anchor="middle">2.0</text></g>
<text x="526" y="618.7" font-family="Liberation Sans, sans-serif" font-style="italic" font-size="33" text-anchor="middle">&#950;</text>
<g transform="translate(26.4 0) rotate(-90)" font-family="Liberation Sans, sans-serif" font-size="31"><text x="-313">u</text><text x="-296.5">(</text><text transform="translate(-284.4 0) scale(1.15 1)" font-style="italic">&#950;</text><text x="-269">,</text><text x="-256.8" font-style="italic">&#964;</text><text x="-245">)</text></g>
<text x="413" y="52.3" font-family="Liberation Serif, serif" font-size="23.3" fill="#000"><tspan font-weight="bold">Solid Line:</tspan> Isothermal Wall (<tspan font-style="italic">&#964;=1.5</tspan>)</text>
<text x="413" y="116.1" font-family="Liberation Serif, serif" font-size="23.3" fill="#000"><tspan font-weight="bold">Dashed:</tspan> Ramped Wall (<tspan font-style="italic">&#964;<tspan dx="2">=0.5</tspan></tspan>)</text>
<rect x="806" y="10.9" width="151.5" height="303" fill="#fff" stroke="#222" stroke-width="1.4"/>
<g font-family="Liberation Sans, sans-serif" font-style="italic" font-size="32.5"><g fill="#ff0000"><text x="838" y="43.00">M</text><text transform="translate(862.8 45.30) skewX(-12)">=</text><text x="884.8" y="43.00">0</text></g><g fill="#ff00ff"><text x="838" y="80.20">M</text><text transform="translate(862.8 82.50) skewX(-12)">=</text><text x="884.8" y="80.20">1</text></g><g fill="#0000ff"><text x="838" y="117.40">M</text><text transform="translate(862.8 119.70) skewX(-12)">=</text><text x="884.8" y="117.40">2</text></g><g fill="#000000"><text x="838" y="154.60">M</text><text transform="translate(862.8 156.90) skewX(-12)">=</text><text x="884.8" y="154.60">3</text></g><g fill="#ff0000"><text x="838" y="191.80">M</text><text transform="translate(862.8 194.10) skewX(-12)">=</text><text x="884.8" y="191.80">0</text></g><g fill="#ff00ff"><text x="838" y="229.00">M</text><text transform="translate(862.8 231.30) skewX(-12)">=</text><text x="884.8" y="229.00">1</text></g><g fill="#0000ff"><text x="838" y="266.20">M</text><text transform="translate(862.8 268.50) skewX(-12)">=</text><text x="884.8" y="266.20">2</text></g><g fill="#000000"><text x="838" y="303.40">M</text><text transform="translate(862.8 305.70) skewX(-12)">=</text><text x="884.8" y="303.40">3</text></g></g>
</svg>
</body></html>
